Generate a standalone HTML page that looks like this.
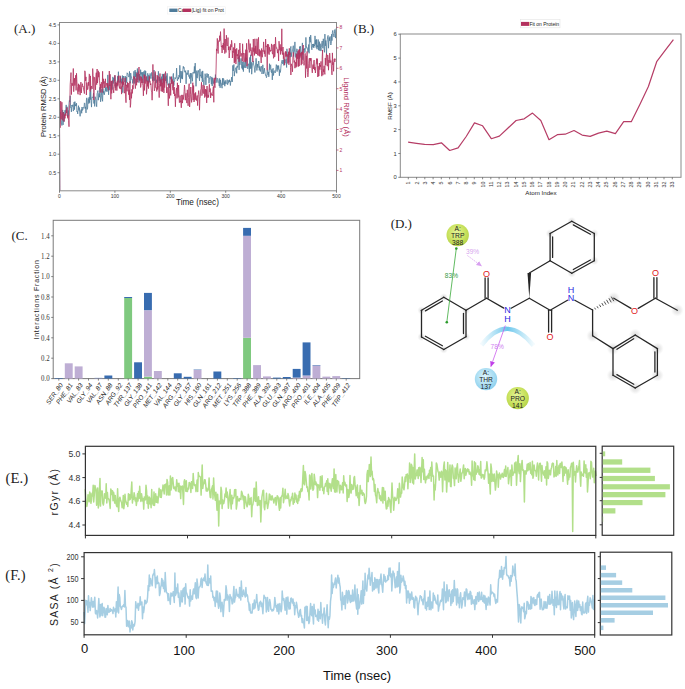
<!DOCTYPE html><html><head><meta charset="utf-8"><style>html,body{margin:0;padding:0;background:#fff;width:685px;height:689px;overflow:hidden}svg{display:block}</style></head><body>
<svg width="685" height="689" viewBox="0 0 685 689">
<rect width="685" height="689" fill="#fff"/>
<text x="24.6" y="28.3" font-size="13" fill="#222" text-anchor="middle" dominant-baseline="central" font-family='"Liberation Serif", serif'>(A.)</text>
<text x="363.9" y="28" font-size="13" fill="#222" text-anchor="middle" dominant-baseline="central" font-family='"Liberation Serif", serif'>(B.)</text>
<text x="19.6" y="235.7" font-size="13" fill="#222" text-anchor="middle" dominant-baseline="central" font-family='"Liberation Serif", serif'>(C.</text>
<text x="401.3" y="223.9" font-size="13" fill="#222" text-anchor="middle" dominant-baseline="central" font-family='"Liberation Serif", serif'>(D.)</text>
<text x="16.8" y="478.3" font-size="14.8" fill="#222" text-anchor="middle" dominant-baseline="central" font-family='"Liberation Serif", serif'>(E.)</text>
<text x="15.4" y="574.6" font-size="14.5" fill="#222" text-anchor="middle" dominant-baseline="central" font-family='"Liberation Serif", serif'>(F.)</text>
<g clip-path="url(#clipA)">
<polyline points="59.8,190.8 59.5,124.0 59.9,123.7 60.3,111.9 60.7,114.3 61.1,120.4 61.5,122.7 61.9,125.5 62.3,116.1 62.7,109.9 63.1,124.9 63.5,112.0 63.9,121.7 64.2,119.3 64.6,114.1 65.0,110.2 65.4,113.7 65.8,108.6 66.2,104.9 66.6,110.8 67.0,106.7 67.4,114.3 67.8,116.8 68.2,110.4 68.6,115.6 69.0,103.3 69.4,100.4 69.8,101.9 70.2,95.8 70.6,107.6 71.0,107.2 71.4,111.9 71.8,105.0 72.2,106.1 72.6,106.4 72.9,104.7 73.3,111.1 73.7,109.3 74.1,102.1 74.5,109.6 74.9,101.6 75.3,106.1 75.7,104.5 76.1,105.8 76.5,103.2 76.9,111.6 77.3,111.0 77.7,113.9 78.1,109.6 78.5,105.7 78.9,110.4 79.3,107.5 79.7,112.1 80.1,116.3 80.5,112.2 80.9,110.2 81.3,109.4 81.7,113.3 82.0,107.0 82.4,110.4 82.8,110.1 83.2,107.4 83.6,107.9 84.0,108.2 84.4,102.9 84.8,103.5 85.2,108.7 85.6,106.9 86.0,112.9 86.4,100.1 86.8,97.8 87.2,109.4 87.6,108.2 88.0,100.3 88.4,98.6 88.8,103.6 89.2,97.0 89.6,102.7 90.0,92.1 90.4,99.6 90.7,87.3 91.1,100.7 91.5,107.1 91.9,97.9 92.3,96.9 92.7,97.6 93.1,97.6 93.5,93.1 93.9,103.5 94.3,99.9 94.7,106.4 95.1,96.7 95.5,98.1 95.9,99.9 96.3,104.0 96.7,106.7 97.1,93.7 97.5,92.4 97.9,90.6 98.3,100.2 98.7,96.1 99.1,93.4 99.5,97.2 99.8,87.4 100.2,91.1 100.6,101.8 101.0,99.1 101.4,95.8 101.8,89.2 102.2,97.9 102.6,101.3 103.0,88.6 103.4,93.3 103.8,91.0 104.2,94.9 104.6,92.9 105.0,91.7 105.4,87.4 105.8,91.2 106.2,87.1 106.6,91.4 107.0,91.8 107.4,91.1 107.8,74.9 108.2,86.0 108.6,94.8 108.9,87.2 109.3,84.9 109.7,90.1 110.1,86.4 110.5,85.2 110.9,85.4 111.3,80.8 111.7,86.2 112.1,89.6 112.5,86.2 112.9,76.9 113.3,83.5 113.7,78.1 114.1,81.2 114.5,81.2 114.9,75.5 115.3,87.8 115.7,82.2 116.1,85.4 116.5,85.0 116.9,86.5 117.3,85.5 117.6,76.2 118.0,81.8 118.4,71.7 118.8,79.4 119.2,82.5 119.6,81.8 120.0,82.4 120.4,76.4 120.8,81.8 121.2,78.7 121.6,83.4 122.0,81.6 122.4,75.5 122.8,92.7 123.2,78.2 123.6,76.0 124.0,80.2 124.4,81.7 124.8,81.4 125.2,76.0 125.6,85.6 126.0,77.6 126.4,77.1 126.7,82.6 127.1,72.8 127.5,73.6 127.9,73.6 128.3,75.7 128.7,76.9 129.1,76.8 129.5,71.4 129.9,81.8 130.3,83.2 130.7,73.1 131.1,76.9 131.5,76.8 131.9,79.5 132.3,79.1 132.7,83.4 133.1,80.4 133.5,79.2 133.9,71.3 134.3,83.5 134.7,76.4 135.1,70.1 135.4,77.0 135.8,72.0 136.2,82.8 136.6,74.1 137.0,76.3 137.4,68.5 137.8,79.9 138.2,71.5 138.6,74.2 139.0,82.6 139.4,74.1 139.8,80.6 140.2,80.3 140.6,69.7 141.0,74.3 141.4,72.3 141.8,76.1 142.2,79.6 142.6,72.2 143.0,83.0 143.4,75.2 143.8,71.5 144.2,75.8 144.5,78.1 144.9,70.4 145.3,76.0 145.7,71.1 146.1,81.3 146.5,77.4 146.9,76.7 147.3,81.5 147.7,73.3 148.1,75.4 148.5,83.5 148.9,75.1 149.3,82.3 149.7,76.9 150.1,73.4 150.5,76.5 150.9,78.7 151.3,76.4 151.7,72.4 152.1,74.4 152.5,80.9 152.9,76.9 153.2,79.9 153.6,80.5 154.0,70.0 154.4,80.7 154.8,77.9 155.2,73.4 155.6,77.1 156.0,83.2 156.4,81.0 156.8,79.7 157.2,82.3 157.6,81.9 158.0,79.3 158.4,71.3 158.8,76.4 159.2,81.1 159.6,77.0 160.0,82.7 160.4,82.3 160.8,78.6 161.2,86.2 161.6,76.6 162.0,83.4 162.3,73.9 162.7,77.5 163.1,80.3 163.5,75.5 163.9,83.2 164.3,73.6 164.7,79.3 165.1,76.8 165.5,80.8 165.9,78.9 166.3,75.7 166.7,83.4 167.1,73.3 167.5,80.0 167.9,85.2 168.3,84.5 168.7,85.0 169.1,83.5 169.5,87.9 169.9,76.5 170.3,79.3 170.7,77.2 171.0,76.9 171.4,82.0 171.8,83.4 172.2,83.7 172.6,79.3 173.0,75.8 173.4,73.4 173.8,85.6 174.2,82.3 174.6,81.0 175.0,77.5 175.4,78.7 175.8,77.7 176.2,77.5 176.6,68.1 177.0,77.7 177.4,80.8 177.8,79.1 178.2,77.2 178.6,79.1 179.0,75.1 179.4,77.2 179.8,65.3 180.1,70.3 180.5,82.8 180.9,71.0 181.3,74.3 181.7,78.6 182.1,71.4 182.5,79.1 182.9,69.4 183.3,66.3 183.7,68.3 184.1,67.4 184.5,71.8 184.9,71.7 185.3,72.4 185.7,70.6 186.1,83.8 186.5,73.2 186.9,72.6 187.3,74.7 187.7,72.5 188.1,70.2 188.5,72.5 188.8,76.4 189.2,75.5 189.6,78.6 190.0,74.5 190.4,73.2 190.8,83.7 191.2,73.2 191.6,77.2 192.0,78.1 192.4,81.3 192.8,73.0 193.2,72.1 193.6,73.3 194.0,72.6 194.4,66.4 194.8,73.3 195.2,63.1 195.6,76.0 196.0,86.3 196.4,78.4 196.8,70.6 197.2,78.2 197.6,73.3 197.9,71.8 198.3,70.3 198.7,72.9 199.1,77.3 199.5,80.8 199.9,68.9 200.3,75.7 200.7,74.9 201.1,77.6 201.5,77.9 201.9,71.6 202.3,81.9 202.7,70.9 203.1,77.3 203.5,81.8 203.9,85.4 204.3,80.7 204.7,79.6 205.1,73.7 205.5,76.4 205.9,84.9 206.3,77.0 206.7,75.9 207.0,73.4 207.4,76.9 207.8,77.6 208.2,74.0 208.6,76.8 209.0,83.3 209.4,79.1 209.8,77.4 210.2,76.3 210.6,77.6 211.0,80.0 211.4,84.2 211.8,76.9 212.2,86.0 212.6,77.9 213.0,80.5 213.4,83.6 213.8,80.8 214.2,79.5 214.6,81.4 215.0,82.9 215.4,74.6 215.7,77.9 216.1,77.7 216.5,79.4 216.9,82.7 217.3,79.5 217.7,78.3 218.1,79.8 218.5,82.5 218.9,82.5 219.3,86.1 219.7,78.4 220.1,87.8 220.5,79.9 220.9,83.7 221.3,83.3 221.7,86.5 222.1,88.2 222.5,78.3 222.9,85.0 223.3,78.4 223.7,78.7 224.1,84.5 224.5,81.7 224.8,86.2 225.2,80.3 225.6,83.2 226.0,84.1 226.4,82.3 226.8,82.1 227.2,79.6 227.6,84.7 228.0,83.2 228.4,83.0 228.8,80.2 229.2,82.0 229.6,79.7 230.0,82.1 230.4,85.5 230.8,81.0 231.2,81.6 231.6,77.1 232.0,80.7 232.4,81.8 232.8,65.4 233.2,71.0 233.5,68.3 233.9,64.5 234.3,76.1 234.7,71.8 235.1,72.2 235.5,68.1 235.9,68.0 236.3,67.4 236.7,73.3 237.1,65.9 237.5,67.4 237.9,66.3 238.3,57.7 238.7,57.1 239.1,69.9 239.5,55.6 239.9,64.9 240.3,62.2 240.7,61.7 241.1,58.4 241.5,63.7 241.9,68.4 242.3,61.6 242.6,69.5 243.0,65.5 243.4,71.6 243.8,62.0 244.2,67.8 244.6,66.2 245.0,62.1 245.4,57.7 245.8,68.0 246.2,57.7 246.6,59.2 247.0,65.6 247.4,67.8 247.8,68.8 248.2,64.0 248.6,63.8 249.0,67.8 249.4,72.5 249.8,57.4 250.2,68.8 250.6,54.8 251.0,68.3 251.3,62.3 251.7,74.2 252.1,68.2 252.5,63.5 252.9,62.8 253.3,61.1 253.7,65.1 254.1,65.9 254.5,69.1 254.9,72.5 255.3,68.8 255.7,62.7 256.1,58.3 256.5,63.0 256.9,70.5 257.3,64.0 257.7,66.9 258.1,67.6 258.5,61.0 258.9,61.4 259.3,70.4 259.7,66.5 260.1,67.7 260.4,71.5 260.8,68.4 261.2,66.1 261.6,66.9 262.0,74.0 262.4,69.9 262.8,64.8 263.2,68.6 263.6,73.8 264.0,72.4 264.4,68.1 264.8,71.6 265.2,73.4 265.6,75.4 266.0,75.1 266.4,77.7 266.8,76.8 267.2,70.3 267.6,69.9 268.0,74.9 268.4,71.9 268.8,76.8 269.1,73.6 269.5,63.7 269.9,69.7 270.3,65.4 270.7,64.8 271.1,72.0 271.5,72.7 271.9,69.4 272.3,79.9 272.7,70.3 273.1,68.3 273.5,75.5 273.9,71.5 274.3,71.0 274.7,70.7 275.1,73.0 275.5,71.5 275.9,69.1 276.3,64.6 276.7,66.7 277.1,71.6 277.5,65.6 277.9,68.9 278.2,69.5 278.6,65.5 279.0,69.3 279.4,75.8 279.8,69.6 280.2,72.5 280.6,70.7 281.0,65.9 281.4,63.4 281.8,61.2 282.2,60.1 282.6,63.8 283.0,63.0 283.4,59.7 283.8,65.4 284.2,58.8 284.6,61.4 285.0,63.2 285.4,60.0 285.8,59.6 286.2,59.2 286.6,67.5 286.9,48.8 287.3,53.5 287.7,56.9 288.1,56.1 288.5,53.6 288.9,62.3 289.3,51.1 289.7,51.4 290.1,57.3 290.5,48.5 290.9,46.4 291.3,56.7 291.7,52.6 292.1,52.5 292.5,49.5 292.9,48.2 293.3,45.7 293.7,56.6 294.1,52.0 294.5,51.0 294.9,41.9 295.3,52.4 295.7,57.4 296.0,56.6 296.4,52.4 296.8,48.8 297.2,49.3 297.6,55.4 298.0,54.0 298.4,53.0 298.8,52.7 299.2,59.0 299.6,46.6 300.0,48.5 300.4,46.2 300.8,55.6 301.2,54.2 301.6,53.7 302.0,50.0 302.4,42.9 302.8,59.7 303.2,50.8 303.6,49.2 304.0,50.0 304.4,48.4 304.8,52.7 305.1,51.7 305.5,47.4 305.9,37.4 306.3,45.4 306.7,48.2 307.1,47.7 307.5,48.9 307.9,52.0 308.3,51.7 308.7,44.5 309.1,53.3 309.5,36.9 309.9,39.2 310.3,42.3 310.7,35.1 311.1,40.1 311.5,48.4 311.9,49.8 312.3,45.7 312.7,44.0 313.1,47.1 313.5,43.9 313.8,47.9 314.2,44.7 314.6,45.9 315.0,35.9 315.4,44.4 315.8,39.9 316.2,47.6 316.6,39.4 317.0,49.2 317.4,45.5 317.8,47.0 318.2,39.5 318.6,50.2 319.0,44.8 319.4,41.7 319.8,50.7 320.2,43.7 320.6,48.7 321.0,51.1 321.4,47.4 321.8,42.6 322.2,41.0 322.6,46.3 322.9,48.3 323.3,38.8 323.7,45.1 324.1,48.8 324.5,52.3 324.9,34.1 325.3,45.9 325.7,40.5 326.1,46.0 326.5,54.5 326.9,42.5 327.3,39.6 327.7,36.4 328.1,35.4 328.5,48.2 328.9,40.6 329.3,37.5 329.7,40.8 330.1,36.4 330.5,43.7 330.9,45.0 331.3,43.2 331.6,34.2 332.0,40.6 332.4,32.2 332.8,30.4 333.2,33.4 333.6,35.1 334.0,37.1 334.4,33.3 334.8,29.6 335.2,32.0 335.6,38.1 336.0,28.5" fill="none" stroke="#4f7c9b" stroke-width="0.8" stroke-linejoin="round"/>
<polyline points="59.8,190.8 59.5,117.0 59.9,127.2 60.3,127.7 60.7,101.1 61.1,119.1 61.5,115.8 61.9,102.2 62.3,120.3 62.7,113.3 63.1,112.5 63.5,112.6 63.9,121.4 64.2,121.4 64.6,114.5 65.0,118.4 65.4,113.3 65.8,115.8 66.2,110.3 66.6,113.0 67.0,107.5 67.4,115.9 67.8,118.3 68.2,115.3 68.6,120.4 69.0,126.7 69.4,105.5 69.8,104.3 70.2,84.4 70.6,78.8 71.0,72.6 71.4,94.6 71.8,83.3 72.2,83.1 72.6,85.7 72.9,83.0 73.3,68.5 73.7,91.7 74.1,84.9 74.5,78.2 74.9,85.5 75.3,80.9 75.7,75.2 76.1,90.4 76.5,73.3 76.9,81.8 77.3,86.5 77.7,92.9 78.1,94.3 78.5,83.8 78.9,91.6 79.3,84.8 79.7,90.1 80.1,95.1 80.5,90.0 80.9,82.1 81.3,93.0 81.7,87.7 82.0,85.2 82.4,83.7 82.8,86.9 83.2,86.4 83.6,89.8 84.0,91.2 84.4,93.6 84.8,70.8 85.2,72.1 85.6,80.9 86.0,76.9 86.4,95.0 86.8,82.6 87.2,84.6 87.6,89.7 88.0,88.5 88.4,82.0 88.8,85.7 89.2,73.9 89.6,74.5 90.0,91.8 90.4,75.9 90.7,89.6 91.1,86.8 91.5,86.0 91.9,88.9 92.3,88.7 92.7,68.6 93.1,75.6 93.5,76.8 93.9,100.0 94.3,77.3 94.7,77.4 95.1,82.2 95.5,89.8 95.9,76.7 96.3,72.7 96.7,84.7 97.1,69.0 97.5,83.0 97.9,77.7 98.3,70.8 98.7,77.2 99.1,72.3 99.5,80.8 99.8,84.0 100.2,92.5 100.6,84.2 101.0,88.3 101.4,82.3 101.8,83.2 102.2,92.5 102.6,71.3 103.0,88.3 103.4,78.8 103.8,83.5 104.2,81.4 104.6,87.9 105.0,84.1 105.4,78.8 105.8,86.9 106.2,85.4 106.6,83.1 107.0,83.5 107.4,87.7 107.8,83.3 108.2,89.3 108.6,90.3 108.9,82.0 109.3,71.0 109.7,85.8 110.1,74.3 110.5,88.0 110.9,99.2 111.3,81.1 111.7,93.4 112.1,85.2 112.5,80.6 112.9,80.5 113.3,89.8 113.7,92.9 114.1,86.8 114.5,86.4 114.9,75.2 115.3,81.4 115.7,90.4 116.1,85.3 116.5,82.8 116.9,90.6 117.3,80.8 117.6,85.5 118.0,83.4 118.4,75.7 118.8,85.5 119.2,86.7 119.6,88.5 120.0,75.7 120.4,78.8 120.8,89.1 121.2,86.5 121.6,94.1 122.0,81.5 122.4,86.8 122.8,77.8 123.2,84.8 123.6,81.7 124.0,85.6 124.4,93.2 124.8,91.6 125.2,77.8 125.6,96.9 126.0,102.7 126.4,86.2 126.7,84.8 127.1,91.3 127.5,82.3 127.9,87.5 128.3,83.1 128.7,94.7 129.1,89.9 129.5,99.9 129.9,81.4 130.3,107.4 130.7,104.0 131.1,92.4 131.5,98.3 131.9,89.3 132.3,93.4 132.7,85.3 133.1,89.2 133.5,79.9 133.9,76.2 134.3,78.5 134.7,77.2 135.1,85.4 135.4,88.6 135.8,78.6 136.2,81.4 136.6,85.3 137.0,72.7 137.4,81.0 137.8,82.4 138.2,77.5 138.6,73.2 139.0,67.0 139.4,80.1 139.8,80.5 140.2,76.3 140.6,87.5 141.0,85.6 141.4,76.7 141.8,83.0 142.2,78.8 142.6,83.8 143.0,85.7 143.4,95.8 143.8,83.1 144.2,74.6 144.5,90.4 144.9,75.6 145.3,82.9 145.7,83.5 146.1,76.4 146.5,94.3 146.9,89.7 147.3,80.5 147.7,86.4 148.1,81.1 148.5,88.6 148.9,81.3 149.3,76.3 149.7,80.8 150.1,81.0 150.5,85.0 150.9,83.6 151.3,90.1 151.7,92.1 152.1,100.2 152.5,91.9 152.9,64.4 153.2,80.8 153.6,80.9 154.0,84.0 154.4,90.9 154.8,88.3 155.2,71.5 155.6,87.5 156.0,87.9 156.4,87.6 156.8,91.4 157.2,75.1 157.6,89.6 158.0,76.1 158.4,85.8 158.8,89.0 159.2,97.6 159.6,83.7 160.0,73.5 160.4,86.3 160.8,80.2 161.2,91.2 161.6,81.1 162.0,78.8 162.3,91.9 162.7,82.8 163.1,90.4 163.5,74.1 163.9,92.9 164.3,78.8 164.7,87.6 165.1,75.7 165.5,71.6 165.9,80.0 166.3,83.5 166.7,93.0 167.1,87.2 167.5,92.7 167.9,92.9 168.3,105.8 168.7,83.7 169.1,94.1 169.5,98.4 169.9,91.1 170.3,83.5 170.7,95.4 171.0,82.4 171.4,76.6 171.8,83.9 172.2,79.3 172.6,88.3 173.0,90.3 173.4,81.5 173.8,93.9 174.2,87.1 174.6,96.0 175.0,93.9 175.4,106.8 175.8,95.0 176.2,90.0 176.6,87.9 177.0,98.4 177.4,82.8 177.8,93.5 178.2,97.4 178.6,85.0 179.0,96.4 179.4,102.6 179.8,101.1 180.1,95.6 180.5,102.3 180.9,100.8 181.3,107.8 181.7,94.9 182.1,96.8 182.5,103.1 182.9,94.9 183.3,99.5 183.7,97.0 184.1,91.4 184.5,85.0 184.9,89.8 185.3,100.2 185.7,94.9 186.1,93.3 186.5,100.3 186.9,103.1 187.3,89.8 187.7,98.6 188.1,105.8 188.5,97.6 188.8,86.4 189.2,83.7 189.6,107.0 190.0,101.3 190.4,94.3 190.8,87.0 191.2,96.8 191.6,102.4 192.0,95.3 192.4,92.0 192.8,82.7 193.2,100.1 193.6,85.5 194.0,102.0 194.4,99.9 194.8,93.4 195.2,99.8 195.6,92.4 196.0,97.5 196.4,100.6 196.8,97.3 197.2,95.5 197.6,105.6 197.9,98.2 198.3,94.4 198.7,90.6 199.1,94.4 199.5,110.2 199.9,98.5 200.3,96.7 200.7,89.8 201.1,88.8 201.5,82.3 201.9,95.6 202.3,93.7 202.7,88.3 203.1,84.9 203.5,92.9 203.9,93.8 204.3,85.7 204.7,97.6 205.1,92.7 205.5,89.2 205.9,96.5 206.3,89.6 206.7,102.9 207.0,86.0 207.4,96.2 207.8,97.8 208.2,94.9 208.6,97.3 209.0,88.1 209.4,84.3 209.8,92.1 210.2,88.5 210.6,98.0 211.0,92.6 211.4,94.5 211.8,94.0 212.2,95.8 212.6,93.4 213.0,89.3 213.4,86.5 213.8,102.3 214.2,77.9 214.6,85.7 215.0,87.7 215.4,77.7 215.7,79.2 216.1,68.0 216.5,48.9 216.9,50.9 217.3,38.4 217.7,46.5 218.1,53.5 218.5,42.0 218.9,40.5 219.3,41.6 219.7,35.7 220.1,40.7 220.5,31.6 220.9,40.2 221.3,46.7 221.7,45.9 222.1,53.0 222.5,45.3 222.9,47.7 223.3,42.9 223.7,49.8 224.1,28.6 224.5,43.4 224.8,53.6 225.2,39.0 225.6,48.5 226.0,52.5 226.4,35.2 226.8,45.2 227.2,46.0 227.6,44.9 228.0,37.6 228.4,50.1 228.8,46.7 229.2,58.0 229.6,52.5 230.0,46.5 230.4,50.1 230.8,44.4 231.2,47.1 231.6,40.3 232.0,44.1 232.4,58.0 232.8,51.0 233.2,52.6 233.5,47.5 233.9,53.5 234.3,63.1 234.7,43.3 235.1,61.8 235.5,49.3 235.9,64.1 236.3,58.2 236.7,48.3 237.1,55.9 237.5,54.4 237.9,59.2 238.3,57.5 238.7,49.8 239.1,61.8 239.5,48.7 239.9,43.0 240.3,50.2 240.7,56.3 241.1,56.4 241.5,53.4 241.9,53.9 242.3,61.2 242.6,43.8 243.0,54.4 243.4,53.1 243.8,62.0 244.2,61.1 244.6,60.3 245.0,53.2 245.4,62.2 245.8,49.7 246.2,60.6 246.6,43.3 247.0,66.2 247.4,63.1 247.8,50.1 248.2,49.4 248.6,39.4 249.0,42.5 249.4,52.4 249.8,50.6 250.2,43.6 250.6,50.6 251.0,49.9 251.3,55.7 251.7,55.6 252.1,47.5 252.5,57.2 252.9,62.0 253.3,39.0 253.7,51.6 254.1,48.3 254.5,55.4 254.9,38.8 255.3,53.6 255.7,45.9 256.1,52.8 256.5,54.0 256.9,38.8 257.3,41.5 257.7,55.3 258.1,41.9 258.5,37.4 258.9,55.7 259.3,49.4 259.7,56.4 260.1,54.4 260.4,50.6 260.8,57.2 261.2,63.0 261.6,48.5 262.0,56.4 262.4,57.2 262.8,50.3 263.2,51.6 263.6,41.9 264.0,48.3 264.4,53.8 264.8,50.5 265.2,56.7 265.6,39.0 266.0,46.9 266.4,45.9 266.8,46.2 267.2,70.2 267.6,44.1 268.0,53.6 268.4,44.4 268.8,45.9 269.1,54.7 269.5,47.3 269.9,50.5 270.3,51.6 270.7,50.1 271.1,50.9 271.5,43.9 271.9,47.7 272.3,53.2 272.7,54.2 273.1,44.8 273.5,58.3 273.9,56.9 274.3,44.0 274.7,56.9 275.1,53.5 275.5,37.2 275.9,45.3 276.3,48.4 276.7,47.7 277.1,49.5 277.5,53.1 277.9,49.3 278.2,49.6 278.6,60.9 279.0,41.2 279.4,45.8 279.8,50.3 280.2,44.4 280.6,54.5 281.0,47.5 281.4,51.1 281.8,28.8 282.2,52.5 282.6,54.6 283.0,47.0 283.4,58.8 283.8,52.6 284.2,58.6 284.6,65.1 285.0,57.9 285.4,51.4 285.8,56.6 286.2,51.6 286.6,56.3 286.9,54.3 287.3,55.0 287.7,63.4 288.1,62.5 288.5,51.8 288.9,64.8 289.3,48.3 289.7,55.0 290.1,52.7 290.5,67.7 290.9,75.0 291.3,63.8 291.7,65.7 292.1,65.8 292.5,71.8 292.9,57.0 293.3,52.4 293.7,56.7 294.1,62.4 294.5,60.6 294.9,68.2 295.3,64.4 295.7,62.1 296.0,67.4 296.4,53.7 296.8,66.5 297.2,54.6 297.6,58.8 298.0,51.1 298.4,66.6 298.8,49.7 299.2,66.1 299.6,49.2 300.0,57.5 300.4,53.2 300.8,52.9 301.2,65.2 301.6,52.2 302.0,63.9 302.4,51.6 302.8,54.4 303.2,45.0 303.6,61.6 304.0,65.3 304.4,62.5 304.8,61.0 305.1,53.3 305.5,77.7 305.9,68.1 306.3,55.8 306.7,68.5 307.1,51.5 307.5,72.6 307.9,76.9 308.3,73.0 308.7,63.2 309.1,58.7 309.5,58.1 309.9,67.9 310.3,58.0 310.7,60.7 311.1,58.2 311.5,62.1 311.9,69.2 312.3,72.9 312.7,66.2 313.1,64.5 313.5,68.9 313.8,61.0 314.2,60.0 314.6,70.1 315.0,67.1 315.4,73.0 315.8,69.0 316.2,63.9 316.6,58.6 317.0,64.2 317.4,58.7 317.8,77.0 318.2,66.2 318.6,76.0 319.0,76.1 319.4,63.0 319.8,69.7 320.2,65.0 320.6,66.7 321.0,61.4 321.4,70.4 321.8,76.2 322.2,56.9 322.6,49.9 322.9,75.2 323.3,69.5 323.7,71.8 324.1,65.8 324.5,72.3 324.9,74.4 325.3,58.0 325.7,65.1 326.1,57.3 326.5,53.8 326.9,63.3 327.3,66.2 327.7,54.9 328.1,57.7 328.5,70.2 328.9,60.0 329.3,62.8 329.7,53.1 330.1,58.7 330.5,62.5 330.9,60.6 331.3,64.7 331.6,70.3 332.0,74.9 332.4,52.9 332.8,64.9 333.2,62.4 333.6,71.3 334.0,59.1 334.4,58.6 334.8,62.0 335.2,58.9 335.6,59.0 336.0,59.5" fill="none" stroke="#b3315e" stroke-width="0.8" stroke-linejoin="round"/>
</g>
<clipPath id="clipA"><rect x="59.5" y="22.5" width="277.0" height="168.3"/></clipPath>
<rect x="59.5" y="22.5" width="277" height="168.3" fill="none" stroke="#8a8a8a" stroke-width="1"/>
<line x1="57.5" y1="172.7" x2="59.5" y2="172.7" stroke="#555" stroke-width="0.7"/>
<text x="56.2" y="172.7" font-size="5.3" fill="#333" text-anchor="end" dominant-baseline="central" font-family='"Liberation Sans", sans-serif'>0.5</text>
<line x1="57.5" y1="154.2" x2="59.5" y2="154.2" stroke="#555" stroke-width="0.7"/>
<text x="56.2" y="154.2" font-size="5.3" fill="#333" text-anchor="end" dominant-baseline="central" font-family='"Liberation Sans", sans-serif'>1.0</text>
<line x1="57.5" y1="135.8" x2="59.5" y2="135.8" stroke="#555" stroke-width="0.7"/>
<text x="56.2" y="135.8" font-size="5.3" fill="#333" text-anchor="end" dominant-baseline="central" font-family='"Liberation Sans", sans-serif'>1.5</text>
<line x1="57.5" y1="117.3" x2="59.5" y2="117.3" stroke="#555" stroke-width="0.7"/>
<text x="56.2" y="117.3" font-size="5.3" fill="#333" text-anchor="end" dominant-baseline="central" font-family='"Liberation Sans", sans-serif'>2.0</text>
<line x1="57.5" y1="98.8" x2="59.5" y2="98.8" stroke="#555" stroke-width="0.7"/>
<text x="56.2" y="98.8" font-size="5.3" fill="#333" text-anchor="end" dominant-baseline="central" font-family='"Liberation Sans", sans-serif'>2.5</text>
<line x1="57.5" y1="80.3" x2="59.5" y2="80.3" stroke="#555" stroke-width="0.7"/>
<text x="56.2" y="80.3" font-size="5.3" fill="#333" text-anchor="end" dominant-baseline="central" font-family='"Liberation Sans", sans-serif'>3.0</text>
<line x1="57.5" y1="61.9" x2="59.5" y2="61.9" stroke="#555" stroke-width="0.7"/>
<text x="56.2" y="61.9" font-size="5.3" fill="#333" text-anchor="end" dominant-baseline="central" font-family='"Liberation Sans", sans-serif'>3.5</text>
<line x1="57.5" y1="43.4" x2="59.5" y2="43.4" stroke="#555" stroke-width="0.7"/>
<text x="56.2" y="43.4" font-size="5.3" fill="#333" text-anchor="end" dominant-baseline="central" font-family='"Liberation Sans", sans-serif'>4.0</text>
<line x1="57.5" y1="24.9" x2="59.5" y2="24.9" stroke="#555" stroke-width="0.7"/>
<text x="56.2" y="24.9" font-size="5.3" fill="#333" text-anchor="end" dominant-baseline="central" font-family='"Liberation Sans", sans-serif'>4.5</text>
<line x1="336.5" y1="170.4" x2="338.5" y2="170.4" stroke="#b3315e" stroke-width="0.7"/>
<text x="339.4" y="170.4" font-size="5" fill="#b3315e" text-anchor="start" dominant-baseline="central" font-family='"Liberation Sans", sans-serif'>1</text>
<line x1="336.5" y1="150" x2="338.5" y2="150" stroke="#b3315e" stroke-width="0.7"/>
<text x="339.4" y="150" font-size="5" fill="#b3315e" text-anchor="start" dominant-baseline="central" font-family='"Liberation Sans", sans-serif'>2</text>
<line x1="336.5" y1="129.5" x2="338.5" y2="129.5" stroke="#b3315e" stroke-width="0.7"/>
<text x="339.4" y="129.5" font-size="5" fill="#b3315e" text-anchor="start" dominant-baseline="central" font-family='"Liberation Sans", sans-serif'>3</text>
<line x1="336.5" y1="109.1" x2="338.5" y2="109.1" stroke="#b3315e" stroke-width="0.7"/>
<text x="339.4" y="109.1" font-size="5" fill="#b3315e" text-anchor="start" dominant-baseline="central" font-family='"Liberation Sans", sans-serif'>4</text>
<line x1="336.5" y1="88.7" x2="338.5" y2="88.7" stroke="#b3315e" stroke-width="0.7"/>
<text x="339.4" y="88.7" font-size="5" fill="#b3315e" text-anchor="start" dominant-baseline="central" font-family='"Liberation Sans", sans-serif'>5</text>
<line x1="336.5" y1="68.3" x2="338.5" y2="68.3" stroke="#b3315e" stroke-width="0.7"/>
<text x="339.4" y="68.3" font-size="5" fill="#b3315e" text-anchor="start" dominant-baseline="central" font-family='"Liberation Sans", sans-serif'>6</text>
<line x1="336.5" y1="47.9" x2="338.5" y2="47.9" stroke="#b3315e" stroke-width="0.7"/>
<text x="339.4" y="47.9" font-size="5" fill="#b3315e" text-anchor="start" dominant-baseline="central" font-family='"Liberation Sans", sans-serif'>7</text>
<line x1="336.5" y1="27.4" x2="338.5" y2="27.4" stroke="#b3315e" stroke-width="0.7"/>
<text x="339.4" y="27.4" font-size="5" fill="#b3315e" text-anchor="start" dominant-baseline="central" font-family='"Liberation Sans", sans-serif'>8</text>
<line x1="59.5" y1="190.8" x2="59.5" y2="192.8" stroke="#555" stroke-width="0.7"/>
<text x="59.5" y="196.3" font-size="5" fill="#333" text-anchor="middle" dominant-baseline="central" font-family='"Liberation Sans", sans-serif'>0</text>
<line x1="114.9" y1="190.8" x2="114.9" y2="192.8" stroke="#555" stroke-width="0.7"/>
<text x="114.9" y="196.3" font-size="5" fill="#333" text-anchor="middle" dominant-baseline="central" font-family='"Liberation Sans", sans-serif'>100</text>
<line x1="170.3" y1="190.8" x2="170.3" y2="192.8" stroke="#555" stroke-width="0.7"/>
<text x="170.3" y="196.3" font-size="5" fill="#333" text-anchor="middle" dominant-baseline="central" font-family='"Liberation Sans", sans-serif'>200</text>
<line x1="225.7" y1="190.8" x2="225.7" y2="192.8" stroke="#555" stroke-width="0.7"/>
<text x="225.7" y="196.3" font-size="5" fill="#333" text-anchor="middle" dominant-baseline="central" font-family='"Liberation Sans", sans-serif'>300</text>
<line x1="281.1" y1="190.8" x2="281.1" y2="192.8" stroke="#555" stroke-width="0.7"/>
<text x="281.1" y="196.3" font-size="5" fill="#333" text-anchor="middle" dominant-baseline="central" font-family='"Liberation Sans", sans-serif'>400</text>
<line x1="336.5" y1="190.8" x2="336.5" y2="192.8" stroke="#555" stroke-width="0.7"/>
<text x="336.5" y="196.3" font-size="5" fill="#333" text-anchor="middle" dominant-baseline="central" font-family='"Liberation Sans", sans-serif'>500</text>
<text x="197.5" y="202.5" font-size="8.2" fill="#222" text-anchor="middle" dominant-baseline="central" font-family='"Liberation Sans", sans-serif'>Time (nsec)</text>
<text x="43.2" y="106.7" font-size="7.6" fill="#222" text-anchor="middle" dominant-baseline="central" font-family='"Liberation Sans", sans-serif' transform="rotate(-90 43.2 106.7)">Protein RMSD (&#197;)</text>
<text x="346.8" y="107" font-size="7.6" fill="#b3315e" text-anchor="middle" dominant-baseline="central" font-family='"Liberation Sans", sans-serif' transform="rotate(90 346.8 107)">Ligand RMSD (&#197;)</text>
<rect x="167.5" y="6.8" width="58" height="7.2" fill="#fff" stroke="#ececec" stroke-width="0.5"/>
<rect x="169.3" y="8.6" width="8.2" height="3.4" fill="#4f7c9b" stroke="none" stroke-width="1"/>
<text x="178" y="10.3" font-size="4.8" fill="#222" text-anchor="start" dominant-baseline="central" font-family='"Liberation Sans", sans-serif'>Ca</text>
<rect x="182.8" y="8.6" width="8.2" height="3.4" fill="#b3315e" stroke="none" stroke-width="1"/>
<text x="191.2" y="10.3" font-size="5" fill="#222" text-anchor="start" dominant-baseline="central" font-family='"Liberation Sans", sans-serif'>(Lig) fit on Prot</text>
<rect x="400.3" y="34" width="280.7" height="143.3" fill="none" stroke="#8a8a8a" stroke-width="1"/>
<line x1="398.3" y1="177.3" x2="400.3" y2="177.3" stroke="#555" stroke-width="0.7"/>
<text x="396.7" y="177.3" font-size="5.8" fill="#333" text-anchor="end" dominant-baseline="central" font-family='"Liberation Sans", sans-serif'>0</text>
<line x1="398.3" y1="153.5" x2="400.3" y2="153.5" stroke="#555" stroke-width="0.7"/>
<text x="396.7" y="153.5" font-size="5.8" fill="#333" text-anchor="end" dominant-baseline="central" font-family='"Liberation Sans", sans-serif'>1</text>
<line x1="398.3" y1="129.6" x2="400.3" y2="129.6" stroke="#555" stroke-width="0.7"/>
<text x="396.7" y="129.6" font-size="5.8" fill="#333" text-anchor="end" dominant-baseline="central" font-family='"Liberation Sans", sans-serif'>2</text>
<line x1="398.3" y1="105.8" x2="400.3" y2="105.8" stroke="#555" stroke-width="0.7"/>
<text x="396.7" y="105.8" font-size="5.8" fill="#333" text-anchor="end" dominant-baseline="central" font-family='"Liberation Sans", sans-serif'>3</text>
<line x1="398.3" y1="81.9" x2="400.3" y2="81.9" stroke="#555" stroke-width="0.7"/>
<text x="396.7" y="81.9" font-size="5.8" fill="#333" text-anchor="end" dominant-baseline="central" font-family='"Liberation Sans", sans-serif'>4</text>
<line x1="398.3" y1="58.1" x2="400.3" y2="58.1" stroke="#555" stroke-width="0.7"/>
<text x="396.7" y="58.1" font-size="5.8" fill="#333" text-anchor="end" dominant-baseline="central" font-family='"Liberation Sans", sans-serif'>5</text>
<line x1="398.3" y1="34.2" x2="400.3" y2="34.2" stroke="#555" stroke-width="0.7"/>
<text x="396.7" y="34.2" font-size="5.8" fill="#333" text-anchor="end" dominant-baseline="central" font-family='"Liberation Sans", sans-serif'>6</text>
<polyline points="408.1,142.2 416.5,143.3 424.6,144.4 433.3,144.6 441.4,142.8 449.7,150.5 458.1,147.9 466.2,136.5 474.5,122.9 482.6,125.8 491.3,138.7 499.4,136.1 507.8,128.2 516.1,120.5 524.2,118.8 532.5,113.1 540.8,120.5 549.0,139.7 557.3,134.7 565.2,134.2 574.0,130.5 582.1,135.1 590.2,136.4 598.5,133.1 606.8,131.2 615.4,133.6 623.7,121.7 631.3,121.7 640.1,104.0 648.4,86.5 656.7,61.7 664.6,51.2 673.4,39.6" fill="none" stroke="#b63d66" stroke-width="1.2" stroke-linejoin="round"/>
<line x1="408.3" y1="177.3" x2="408.3" y2="179.3" stroke="#555" stroke-width="0.7"/>
<text x="408.3" y="181.5" font-size="5.3" fill="#333" text-anchor="end" dominant-baseline="central" font-family='"Liberation Sans", sans-serif' transform="rotate(-90 408.3 181.5)">1</text>
<line x1="416.6" y1="177.3" x2="416.6" y2="179.3" stroke="#555" stroke-width="0.7"/>
<text x="416.6" y="181.5" font-size="5.3" fill="#333" text-anchor="end" dominant-baseline="central" font-family='"Liberation Sans", sans-serif' transform="rotate(-90 416.6 181.5)">2</text>
<line x1="424.8" y1="177.3" x2="424.8" y2="179.3" stroke="#555" stroke-width="0.7"/>
<text x="424.8" y="181.5" font-size="5.3" fill="#333" text-anchor="end" dominant-baseline="central" font-family='"Liberation Sans", sans-serif' transform="rotate(-90 424.8 181.5)">3</text>
<line x1="433.1" y1="177.3" x2="433.1" y2="179.3" stroke="#555" stroke-width="0.7"/>
<text x="433.1" y="181.5" font-size="5.3" fill="#333" text-anchor="end" dominant-baseline="central" font-family='"Liberation Sans", sans-serif' transform="rotate(-90 433.1 181.5)">4</text>
<line x1="441.3" y1="177.3" x2="441.3" y2="179.3" stroke="#555" stroke-width="0.7"/>
<text x="441.3" y="181.5" font-size="5.3" fill="#333" text-anchor="end" dominant-baseline="central" font-family='"Liberation Sans", sans-serif' transform="rotate(-90 441.3 181.5)">5</text>
<line x1="449.6" y1="177.3" x2="449.6" y2="179.3" stroke="#555" stroke-width="0.7"/>
<text x="449.6" y="181.5" font-size="5.3" fill="#333" text-anchor="end" dominant-baseline="central" font-family='"Liberation Sans", sans-serif' transform="rotate(-90 449.6 181.5)">6</text>
<line x1="457.8" y1="177.3" x2="457.8" y2="179.3" stroke="#555" stroke-width="0.7"/>
<text x="457.8" y="181.5" font-size="5.3" fill="#333" text-anchor="end" dominant-baseline="central" font-family='"Liberation Sans", sans-serif' transform="rotate(-90 457.8 181.5)">7</text>
<line x1="466.1" y1="177.3" x2="466.1" y2="179.3" stroke="#555" stroke-width="0.7"/>
<text x="466.1" y="181.5" font-size="5.3" fill="#333" text-anchor="end" dominant-baseline="central" font-family='"Liberation Sans", sans-serif' transform="rotate(-90 466.1 181.5)">8</text>
<line x1="474.3" y1="177.3" x2="474.3" y2="179.3" stroke="#555" stroke-width="0.7"/>
<text x="474.3" y="181.5" font-size="5.3" fill="#333" text-anchor="end" dominant-baseline="central" font-family='"Liberation Sans", sans-serif' transform="rotate(-90 474.3 181.5)">9</text>
<line x1="482.6" y1="177.3" x2="482.6" y2="179.3" stroke="#555" stroke-width="0.7"/>
<text x="482.6" y="181.5" font-size="5.3" fill="#333" text-anchor="end" dominant-baseline="central" font-family='"Liberation Sans", sans-serif' transform="rotate(-90 482.6 181.5)">10</text>
<line x1="490.8" y1="177.3" x2="490.8" y2="179.3" stroke="#555" stroke-width="0.7"/>
<text x="490.8" y="181.5" font-size="5.3" fill="#333" text-anchor="end" dominant-baseline="central" font-family='"Liberation Sans", sans-serif' transform="rotate(-90 490.8 181.5)">11</text>
<line x1="499.1" y1="177.3" x2="499.1" y2="179.3" stroke="#555" stroke-width="0.7"/>
<text x="499.1" y="181.5" font-size="5.3" fill="#333" text-anchor="end" dominant-baseline="central" font-family='"Liberation Sans", sans-serif' transform="rotate(-90 499.1 181.5)">12</text>
<line x1="507.3" y1="177.3" x2="507.3" y2="179.3" stroke="#555" stroke-width="0.7"/>
<text x="507.3" y="181.5" font-size="5.3" fill="#333" text-anchor="end" dominant-baseline="central" font-family='"Liberation Sans", sans-serif' transform="rotate(-90 507.3 181.5)">13</text>
<line x1="515.5" y1="177.3" x2="515.5" y2="179.3" stroke="#555" stroke-width="0.7"/>
<text x="515.5" y="181.5" font-size="5.3" fill="#333" text-anchor="end" dominant-baseline="central" font-family='"Liberation Sans", sans-serif' transform="rotate(-90 515.5 181.5)">14</text>
<line x1="523.8" y1="177.3" x2="523.8" y2="179.3" stroke="#555" stroke-width="0.7"/>
<text x="523.8" y="181.5" font-size="5.3" fill="#333" text-anchor="end" dominant-baseline="central" font-family='"Liberation Sans", sans-serif' transform="rotate(-90 523.8 181.5)">15</text>
<line x1="532" y1="177.3" x2="532" y2="179.3" stroke="#555" stroke-width="0.7"/>
<text x="532" y="181.5" font-size="5.3" fill="#333" text-anchor="end" dominant-baseline="central" font-family='"Liberation Sans", sans-serif' transform="rotate(-90 532 181.5)">16</text>
<line x1="540.3" y1="177.3" x2="540.3" y2="179.3" stroke="#555" stroke-width="0.7"/>
<text x="540.3" y="181.5" font-size="5.3" fill="#333" text-anchor="end" dominant-baseline="central" font-family='"Liberation Sans", sans-serif' transform="rotate(-90 540.3 181.5)">17</text>
<line x1="548.5" y1="177.3" x2="548.5" y2="179.3" stroke="#555" stroke-width="0.7"/>
<text x="548.5" y="181.5" font-size="5.3" fill="#333" text-anchor="end" dominant-baseline="central" font-family='"Liberation Sans", sans-serif' transform="rotate(-90 548.5 181.5)">18</text>
<line x1="556.8" y1="177.3" x2="556.8" y2="179.3" stroke="#555" stroke-width="0.7"/>
<text x="556.8" y="181.5" font-size="5.3" fill="#333" text-anchor="end" dominant-baseline="central" font-family='"Liberation Sans", sans-serif' transform="rotate(-90 556.8 181.5)">19</text>
<line x1="565" y1="177.3" x2="565" y2="179.3" stroke="#555" stroke-width="0.7"/>
<text x="565" y="181.5" font-size="5.3" fill="#333" text-anchor="end" dominant-baseline="central" font-family='"Liberation Sans", sans-serif' transform="rotate(-90 565 181.5)">20</text>
<line x1="573.3" y1="177.3" x2="573.3" y2="179.3" stroke="#555" stroke-width="0.7"/>
<text x="573.3" y="181.5" font-size="5.3" fill="#333" text-anchor="end" dominant-baseline="central" font-family='"Liberation Sans", sans-serif' transform="rotate(-90 573.3 181.5)">21</text>
<line x1="581.5" y1="177.3" x2="581.5" y2="179.3" stroke="#555" stroke-width="0.7"/>
<text x="581.5" y="181.5" font-size="5.3" fill="#333" text-anchor="end" dominant-baseline="central" font-family='"Liberation Sans", sans-serif' transform="rotate(-90 581.5 181.5)">22</text>
<line x1="589.8" y1="177.3" x2="589.8" y2="179.3" stroke="#555" stroke-width="0.7"/>
<text x="589.8" y="181.5" font-size="5.3" fill="#333" text-anchor="end" dominant-baseline="central" font-family='"Liberation Sans", sans-serif' transform="rotate(-90 589.8 181.5)">23</text>
<line x1="598" y1="177.3" x2="598" y2="179.3" stroke="#555" stroke-width="0.7"/>
<text x="598" y="181.5" font-size="5.3" fill="#333" text-anchor="end" dominant-baseline="central" font-family='"Liberation Sans", sans-serif' transform="rotate(-90 598 181.5)">24</text>
<line x1="606.3" y1="177.3" x2="606.3" y2="179.3" stroke="#555" stroke-width="0.7"/>
<text x="606.3" y="181.5" font-size="5.3" fill="#333" text-anchor="end" dominant-baseline="central" font-family='"Liberation Sans", sans-serif' transform="rotate(-90 606.3 181.5)">25</text>
<line x1="614.5" y1="177.3" x2="614.5" y2="179.3" stroke="#555" stroke-width="0.7"/>
<text x="614.5" y="181.5" font-size="5.3" fill="#333" text-anchor="end" dominant-baseline="central" font-family='"Liberation Sans", sans-serif' transform="rotate(-90 614.5 181.5)">26</text>
<line x1="622.8" y1="177.3" x2="622.8" y2="179.3" stroke="#555" stroke-width="0.7"/>
<text x="622.8" y="181.5" font-size="5.3" fill="#333" text-anchor="end" dominant-baseline="central" font-family='"Liberation Sans", sans-serif' transform="rotate(-90 622.8 181.5)">27</text>
<line x1="631" y1="177.3" x2="631" y2="179.3" stroke="#555" stroke-width="0.7"/>
<text x="631" y="181.5" font-size="5.3" fill="#333" text-anchor="end" dominant-baseline="central" font-family='"Liberation Sans", sans-serif' transform="rotate(-90 631 181.5)">28</text>
<line x1="639.3" y1="177.3" x2="639.3" y2="179.3" stroke="#555" stroke-width="0.7"/>
<text x="639.3" y="181.5" font-size="5.3" fill="#333" text-anchor="end" dominant-baseline="central" font-family='"Liberation Sans", sans-serif' transform="rotate(-90 639.3 181.5)">29</text>
<line x1="647.5" y1="177.3" x2="647.5" y2="179.3" stroke="#555" stroke-width="0.7"/>
<text x="647.5" y="181.5" font-size="5.3" fill="#333" text-anchor="end" dominant-baseline="central" font-family='"Liberation Sans", sans-serif' transform="rotate(-90 647.5 181.5)">30</text>
<line x1="655.8" y1="177.3" x2="655.8" y2="179.3" stroke="#555" stroke-width="0.7"/>
<text x="655.8" y="181.5" font-size="5.3" fill="#333" text-anchor="end" dominant-baseline="central" font-family='"Liberation Sans", sans-serif' transform="rotate(-90 655.8 181.5)">31</text>
<line x1="664" y1="177.3" x2="664" y2="179.3" stroke="#555" stroke-width="0.7"/>
<text x="664" y="181.5" font-size="5.3" fill="#333" text-anchor="end" dominant-baseline="central" font-family='"Liberation Sans", sans-serif' transform="rotate(-90 664 181.5)">32</text>
<line x1="672.3" y1="177.3" x2="672.3" y2="179.3" stroke="#555" stroke-width="0.7"/>
<text x="672.3" y="181.5" font-size="5.3" fill="#333" text-anchor="end" dominant-baseline="central" font-family='"Liberation Sans", sans-serif' transform="rotate(-90 672.3 181.5)">33</text>
<text x="541" y="192.8" font-size="6.2" fill="#222" text-anchor="middle" dominant-baseline="central" font-family='"Liberation Sans", sans-serif'>Atom Index</text>
<text x="389" y="106" font-size="6.2" fill="#222" text-anchor="middle" dominant-baseline="central" font-family='"Liberation Sans", sans-serif' transform="rotate(-90 389 106)">RMSF (&#197;)</text>
<rect x="520.5" y="19.6" width="39.5" height="8.2" fill="#fff" stroke="#e4e4e4" stroke-width="0.6"/>
<rect x="521" y="21.9" width="8.2" height="4" fill="#b3315e" stroke="none" stroke-width="1"/>
<text x="529.4" y="23.9" font-size="5" fill="#222" text-anchor="start" dominant-baseline="central" font-family='"Liberation Sans", sans-serif'>Fit on Protein</text>
<rect x="53.2" y="220.3" width="306.5" height="158.3" fill="none" stroke="#7a7a7a" stroke-width="1"/>
<line x1="51.2" y1="378.6" x2="53.2" y2="378.6" stroke="#555" stroke-width="0.7"/>
<text x="49.6" y="378.8" font-size="8.4" fill="#333" text-anchor="end" dominant-baseline="central" font-family='"Liberation Serif", serif' textLength="8.6" lengthAdjust="spacingAndGlyphs">0.0</text>
<line x1="51.2" y1="358.2" x2="53.2" y2="358.2" stroke="#555" stroke-width="0.7"/>
<text x="49.6" y="358.4" font-size="8.4" fill="#333" text-anchor="end" dominant-baseline="central" font-family='"Liberation Serif", serif' textLength="8.6" lengthAdjust="spacingAndGlyphs">0.2</text>
<line x1="51.2" y1="337.8" x2="53.2" y2="337.8" stroke="#555" stroke-width="0.7"/>
<text x="49.6" y="338" font-size="8.4" fill="#333" text-anchor="end" dominant-baseline="central" font-family='"Liberation Serif", serif' textLength="8.6" lengthAdjust="spacingAndGlyphs">0.4</text>
<line x1="51.2" y1="317.4" x2="53.2" y2="317.4" stroke="#555" stroke-width="0.7"/>
<text x="49.6" y="317.6" font-size="8.4" fill="#333" text-anchor="end" dominant-baseline="central" font-family='"Liberation Serif", serif' textLength="8.6" lengthAdjust="spacingAndGlyphs">0.6</text>
<line x1="51.2" y1="297" x2="53.2" y2="297" stroke="#555" stroke-width="0.7"/>
<text x="49.6" y="297.2" font-size="8.4" fill="#333" text-anchor="end" dominant-baseline="central" font-family='"Liberation Serif", serif' textLength="8.6" lengthAdjust="spacingAndGlyphs">0.8</text>
<line x1="51.2" y1="276.6" x2="53.2" y2="276.6" stroke="#555" stroke-width="0.7"/>
<text x="49.6" y="276.8" font-size="8.4" fill="#333" text-anchor="end" dominant-baseline="central" font-family='"Liberation Serif", serif' textLength="8.6" lengthAdjust="spacingAndGlyphs">1.0</text>
<line x1="51.2" y1="256.2" x2="53.2" y2="256.2" stroke="#555" stroke-width="0.7"/>
<text x="49.6" y="256.4" font-size="8.4" fill="#333" text-anchor="end" dominant-baseline="central" font-family='"Liberation Serif", serif' textLength="8.6" lengthAdjust="spacingAndGlyphs">1.2</text>
<line x1="51.2" y1="235.8" x2="53.2" y2="235.8" stroke="#555" stroke-width="0.7"/>
<text x="49.6" y="236" font-size="8.4" fill="#333" text-anchor="end" dominant-baseline="central" font-family='"Liberation Serif", serif' textLength="8.6" lengthAdjust="spacingAndGlyphs">1.4</text>
<text x="36.6" y="299.5" font-size="7" fill="#222" text-anchor="middle" dominant-baseline="central" font-family='"Liberation Sans", sans-serif' transform="rotate(-90 36.6 299.5)" letter-spacing="0.8">Interactions Fraction</text>
<rect x="54.8" y="378" width="7.9" height="0.6" fill="#386cb0" stroke="none" stroke-width="1"/>
<line x1="58.8" y1="378.6" x2="58.8" y2="380.6" stroke="#555" stroke-width="0.7"/>
<text x="61.2" y="383.6" font-size="6.5" fill="#222" text-anchor="end" dominant-baseline="central" font-family='"Liberation Sans", sans-serif' transform="rotate(-55 61.2 383.6)" font-style="italic">SER_80</text>
<rect x="64.8" y="363.3" width="7.9" height="15.3" fill="#beaed4" stroke="none" stroke-width="1"/>
<line x1="68.7" y1="378.6" x2="68.7" y2="380.6" stroke="#555" stroke-width="0.7"/>
<text x="71.1" y="383.6" font-size="6.5" fill="#222" text-anchor="end" dominant-baseline="central" font-family='"Liberation Sans", sans-serif' transform="rotate(-55 71.1 383.6)" font-style="italic">PHE_81</text>
<rect x="74.7" y="366.4" width="7.9" height="12.2" fill="#beaed4" stroke="none" stroke-width="1"/>
<line x1="78.6" y1="378.6" x2="78.6" y2="380.6" stroke="#555" stroke-width="0.7"/>
<text x="81" y="383.6" font-size="6.5" fill="#222" text-anchor="end" dominant-baseline="central" font-family='"Liberation Sans", sans-serif' transform="rotate(-55 81 383.6)" font-style="italic">VAL_83</text>
<line x1="88.5" y1="378.6" x2="88.5" y2="380.6" stroke="#555" stroke-width="0.7"/>
<text x="90.9" y="383.6" font-size="6.5" fill="#222" text-anchor="end" dominant-baseline="central" font-family='"Liberation Sans", sans-serif' transform="rotate(-55 90.9 383.6)" font-style="italic">GLY_94</text>
<rect x="94.5" y="378.2" width="7.9" height="0.4" fill="#beaed4" stroke="none" stroke-width="1"/>
<rect x="94.5" y="377.9" width="7.9" height="0.3" fill="#386cb0" stroke="none" stroke-width="1"/>
<line x1="98.4" y1="378.6" x2="98.4" y2="380.6" stroke="#555" stroke-width="0.7"/>
<text x="100.8" y="383.6" font-size="6.5" fill="#222" text-anchor="end" dominant-baseline="central" font-family='"Liberation Sans", sans-serif' transform="rotate(-55 100.8 383.6)" font-style="italic">VAL_87</text>
<rect x="104.4" y="375.5" width="7.9" height="3.1" fill="#386cb0" stroke="none" stroke-width="1"/>
<line x1="108.3" y1="378.6" x2="108.3" y2="380.6" stroke="#555" stroke-width="0.7"/>
<text x="110.8" y="383.6" font-size="6.5" fill="#222" text-anchor="end" dominant-baseline="central" font-family='"Liberation Sans", sans-serif' transform="rotate(-55 110.8 383.6)" font-style="italic">ASN_88</text>
<line x1="118.3" y1="378.6" x2="118.3" y2="380.6" stroke="#555" stroke-width="0.7"/>
<text x="120.7" y="383.6" font-size="6.5" fill="#222" text-anchor="end" dominant-baseline="central" font-family='"Liberation Sans", sans-serif' transform="rotate(-55 120.7 383.6)" font-style="italic">ARG_92</text>
<rect x="124.2" y="298" width="7.9" height="80.6" fill="#7fc97f" stroke="none" stroke-width="1"/>
<rect x="124.2" y="297" width="7.9" height="1" fill="#386cb0" stroke="none" stroke-width="1"/>
<line x1="128.2" y1="378.6" x2="128.2" y2="380.6" stroke="#555" stroke-width="0.7"/>
<text x="130.6" y="383.6" font-size="6.5" fill="#222" text-anchor="end" dominant-baseline="central" font-family='"Liberation Sans", sans-serif' transform="rotate(-55 130.6 383.6)" font-style="italic">THR_137</text>
<rect x="134.1" y="362.3" width="7.9" height="16.3" fill="#386cb0" stroke="none" stroke-width="1"/>
<line x1="138.1" y1="378.6" x2="138.1" y2="380.6" stroke="#555" stroke-width="0.7"/>
<text x="140.5" y="383.6" font-size="6.5" fill="#222" text-anchor="end" dominant-baseline="central" font-family='"Liberation Sans", sans-serif' transform="rotate(-55 140.5 383.6)" font-style="italic">GLY_138</text>
<rect x="144" y="376.6" width="7.9" height="2" fill="#7fc97f" stroke="none" stroke-width="1"/>
<rect x="144" y="310.3" width="7.9" height="66.3" fill="#beaed4" stroke="none" stroke-width="1"/>
<rect x="144" y="292.9" width="7.9" height="17.3" fill="#386cb0" stroke="none" stroke-width="1"/>
<line x1="148" y1="378.6" x2="148" y2="380.6" stroke="#555" stroke-width="0.7"/>
<text x="150.4" y="383.6" font-size="6.5" fill="#222" text-anchor="end" dominant-baseline="central" font-family='"Liberation Sans", sans-serif' transform="rotate(-55 150.4 383.6)" font-style="italic">PRO_141</text>
<rect x="153.9" y="371" width="7.9" height="7.6" fill="#beaed4" stroke="none" stroke-width="1"/>
<line x1="157.9" y1="378.6" x2="157.9" y2="380.6" stroke="#555" stroke-width="0.7"/>
<text x="160.3" y="383.6" font-size="6.5" fill="#222" text-anchor="end" dominant-baseline="central" font-family='"Liberation Sans", sans-serif' transform="rotate(-55 160.3 383.6)" font-style="italic">MET_142</text>
<line x1="167.8" y1="378.6" x2="167.8" y2="380.6" stroke="#555" stroke-width="0.7"/>
<text x="170.2" y="383.6" font-size="6.5" fill="#222" text-anchor="end" dominant-baseline="central" font-family='"Liberation Sans", sans-serif' transform="rotate(-55 170.2 383.6)" font-style="italic">VAL_144</text>
<rect x="173.8" y="373.3" width="7.9" height="5.3" fill="#386cb0" stroke="none" stroke-width="1"/>
<line x1="177.7" y1="378.6" x2="177.7" y2="380.6" stroke="#555" stroke-width="0.7"/>
<text x="180.1" y="383.6" font-size="6.5" fill="#222" text-anchor="end" dominant-baseline="central" font-family='"Liberation Sans", sans-serif' transform="rotate(-55 180.1 383.6)" font-style="italic">ARG_153</text>
<rect x="183.7" y="376.8" width="7.9" height="1.8" fill="#386cb0" stroke="none" stroke-width="1"/>
<line x1="187.6" y1="378.6" x2="187.6" y2="380.6" stroke="#555" stroke-width="0.7"/>
<text x="190" y="383.6" font-size="6.5" fill="#222" text-anchor="end" dominant-baseline="central" font-family='"Liberation Sans", sans-serif' transform="rotate(-55 190 383.6)" font-style="italic">GLY_157</text>
<rect x="193.6" y="369.9" width="7.9" height="8.7" fill="#beaed4" stroke="none" stroke-width="1"/>
<rect x="193.6" y="369.5" width="7.9" height="0.4" fill="#386cb0" stroke="none" stroke-width="1"/>
<line x1="197.5" y1="378.6" x2="197.5" y2="380.6" stroke="#555" stroke-width="0.7"/>
<text x="199.9" y="383.6" font-size="6.5" fill="#222" text-anchor="end" dominant-baseline="central" font-family='"Liberation Sans", sans-serif' transform="rotate(-55 199.9 383.6)" font-style="italic">HIS_160</text>
<line x1="207.4" y1="378.6" x2="207.4" y2="380.6" stroke="#555" stroke-width="0.7"/>
<text x="209.8" y="383.6" font-size="6.5" fill="#222" text-anchor="end" dominant-baseline="central" font-family='"Liberation Sans", sans-serif' transform="rotate(-55 209.8 383.6)" font-style="italic">GLN_161</text>
<rect x="213.4" y="371.5" width="7.9" height="7.1" fill="#386cb0" stroke="none" stroke-width="1"/>
<line x1="217.4" y1="378.6" x2="217.4" y2="380.6" stroke="#555" stroke-width="0.7"/>
<text x="219.8" y="383.6" font-size="6.5" fill="#222" text-anchor="end" dominant-baseline="central" font-family='"Liberation Sans", sans-serif' transform="rotate(-55 219.8 383.6)" font-style="italic">ARG_212</text>
<line x1="227.3" y1="378.6" x2="227.3" y2="380.6" stroke="#555" stroke-width="0.7"/>
<text x="229.7" y="383.6" font-size="6.5" fill="#222" text-anchor="end" dominant-baseline="central" font-family='"Liberation Sans", sans-serif' transform="rotate(-55 229.7 383.6)" font-style="italic">MET_251</text>
<rect x="233.2" y="378.1" width="7.9" height="0.5" fill="#386cb0" stroke="none" stroke-width="1"/>
<line x1="237.2" y1="378.6" x2="237.2" y2="380.6" stroke="#555" stroke-width="0.7"/>
<text x="239.6" y="383.6" font-size="6.5" fill="#222" text-anchor="end" dominant-baseline="central" font-family='"Liberation Sans", sans-serif' transform="rotate(-55 239.6 383.6)" font-style="italic">LYS_256</text>
<rect x="243.1" y="337.8" width="7.9" height="40.8" fill="#7fc97f" stroke="none" stroke-width="1"/>
<rect x="243.1" y="235.8" width="7.9" height="102" fill="#beaed4" stroke="none" stroke-width="1"/>
<rect x="243.1" y="227.9" width="7.9" height="7.9" fill="#386cb0" stroke="none" stroke-width="1"/>
<line x1="247.1" y1="378.6" x2="247.1" y2="380.6" stroke="#555" stroke-width="0.7"/>
<text x="249.5" y="383.6" font-size="6.5" fill="#222" text-anchor="end" dominant-baseline="central" font-family='"Liberation Sans", sans-serif' transform="rotate(-55 249.5 383.6)" font-style="italic">TRP_388</text>
<rect x="253.1" y="365.1" width="7.9" height="13.5" fill="#beaed4" stroke="none" stroke-width="1"/>
<line x1="257" y1="378.6" x2="257" y2="380.6" stroke="#555" stroke-width="0.7"/>
<text x="259.4" y="383.6" font-size="6.5" fill="#222" text-anchor="end" dominant-baseline="central" font-family='"Liberation Sans", sans-serif' transform="rotate(-55 259.4 383.6)" font-style="italic">PHE_389</text>
<rect x="263" y="376.4" width="7.9" height="2.2" fill="#beaed4" stroke="none" stroke-width="1"/>
<line x1="266.9" y1="378.6" x2="266.9" y2="380.6" stroke="#555" stroke-width="0.7"/>
<text x="269.3" y="383.6" font-size="6.5" fill="#222" text-anchor="end" dominant-baseline="central" font-family='"Liberation Sans", sans-serif' transform="rotate(-55 269.3 383.6)" font-style="italic">ALA_392</text>
<rect x="272.9" y="377.6" width="7.9" height="1" fill="#386cb0" stroke="none" stroke-width="1"/>
<line x1="276.8" y1="378.6" x2="276.8" y2="380.6" stroke="#555" stroke-width="0.7"/>
<text x="279.2" y="383.6" font-size="6.5" fill="#222" text-anchor="end" dominant-baseline="central" font-family='"Liberation Sans", sans-serif' transform="rotate(-55 279.2 383.6)" font-style="italic">GLU_393</text>
<rect x="282.8" y="377" width="7.9" height="1.6" fill="#386cb0" stroke="none" stroke-width="1"/>
<line x1="286.7" y1="378.6" x2="286.7" y2="380.6" stroke="#555" stroke-width="0.7"/>
<text x="289.1" y="383.6" font-size="6.5" fill="#222" text-anchor="end" dominant-baseline="central" font-family='"Liberation Sans", sans-serif' transform="rotate(-55 289.1 383.6)" font-style="italic">GLN_397</text>
<rect x="292.7" y="377.6" width="7.9" height="1" fill="#beaed4" stroke="none" stroke-width="1"/>
<rect x="292.7" y="368.9" width="7.9" height="8.7" fill="#386cb0" stroke="none" stroke-width="1"/>
<line x1="296.6" y1="378.6" x2="296.6" y2="380.6" stroke="#555" stroke-width="0.7"/>
<text x="299" y="383.6" font-size="6.5" fill="#222" text-anchor="end" dominant-baseline="central" font-family='"Liberation Sans", sans-serif' transform="rotate(-55 299 383.6)" font-style="italic">ARG_400</text>
<rect x="302.6" y="375.5" width="7.9" height="3.1" fill="#beaed4" stroke="none" stroke-width="1"/>
<rect x="302.6" y="342.4" width="7.9" height="33.1" fill="#386cb0" stroke="none" stroke-width="1"/>
<line x1="306.6" y1="378.6" x2="306.6" y2="380.6" stroke="#555" stroke-width="0.7"/>
<text x="308.9" y="383.6" font-size="6.5" fill="#222" text-anchor="end" dominant-baseline="central" font-family='"Liberation Sans", sans-serif' transform="rotate(-55 308.9 383.6)" font-style="italic">PRO_401</text>
<rect x="312.5" y="365.5" width="7.9" height="13.1" fill="#beaed4" stroke="none" stroke-width="1"/>
<rect x="312.5" y="365" width="7.9" height="0.5" fill="#386cb0" stroke="none" stroke-width="1"/>
<line x1="316.5" y1="378.6" x2="316.5" y2="380.6" stroke="#555" stroke-width="0.7"/>
<text x="318.9" y="383.6" font-size="6.5" fill="#222" text-anchor="end" dominant-baseline="central" font-family='"Liberation Sans", sans-serif' transform="rotate(-55 318.9 383.6)" font-style="italic">ILE_404</text>
<rect x="322.4" y="376.6" width="7.9" height="2" fill="#beaed4" stroke="none" stroke-width="1"/>
<line x1="326.4" y1="378.6" x2="326.4" y2="380.6" stroke="#555" stroke-width="0.7"/>
<text x="328.8" y="383.6" font-size="6.5" fill="#222" text-anchor="end" dominant-baseline="central" font-family='"Liberation Sans", sans-serif' transform="rotate(-55 328.8 383.6)" font-style="italic">ALA_405</text>
<rect x="332.3" y="376.1" width="7.9" height="2.6" fill="#beaed4" stroke="none" stroke-width="1"/>
<line x1="336.3" y1="378.6" x2="336.3" y2="380.6" stroke="#555" stroke-width="0.7"/>
<text x="338.7" y="383.6" font-size="6.5" fill="#222" text-anchor="end" dominant-baseline="central" font-family='"Liberation Sans", sans-serif' transform="rotate(-55 338.7 383.6)" font-style="italic">PHE_409</text>
<rect x="342.2" y="378.2" width="7.9" height="0.4" fill="#386cb0" stroke="none" stroke-width="1"/>
<line x1="346.2" y1="378.6" x2="346.2" y2="380.6" stroke="#555" stroke-width="0.7"/>
<text x="348.6" y="383.6" font-size="6.5" fill="#222" text-anchor="end" dominant-baseline="central" font-family='"Liberation Sans", sans-serif' transform="rotate(-55 348.6 383.6)" font-style="italic">TRP_412</text>
<polyline points="85.2,489.1 85.8,497.9 86.3,504.8 86.9,506.4 87.5,502.5 88.0,494.8 88.6,496.6 89.2,501.7 89.7,491.9 90.3,493.9 90.9,503.3 91.5,500.1 92.0,493.3 92.6,496.1 93.2,485.3 93.7,501.9 94.3,494.7 94.9,485.5 95.4,487.6 96.0,489.3 96.6,505.3 97.1,496.7 97.7,488.0 98.3,508.0 98.8,504.9 99.4,491.1 100.0,478.4 100.5,506.1 101.1,490.9 101.7,494.5 102.2,490.9 102.8,503.2 103.4,505.0 104.0,500.8 104.5,493.8 105.1,496.7 105.7,498.2 106.2,483.8 106.8,503.0 107.4,492.4 107.9,498.7 108.5,498.6 109.1,500.0 109.6,502.5 110.2,508.4 110.8,489.1 111.3,490.6 111.9,494.5 112.5,490.8 113.0,500.7 113.6,492.3 114.2,496.2 114.7,503.1 115.3,495.6 115.9,502.9 116.5,505.6 117.0,506.8 117.6,488.7 118.2,504.3 118.7,511.5 119.3,499.2 119.9,497.2 120.4,499.5 121.0,501.3 121.6,502.4 122.1,507.7 122.7,505.4 123.3,495.4 123.8,508.7 124.4,504.1 125.0,494.3 125.5,500.1 126.1,502.0 126.7,504.2 127.2,502.7 127.8,506.4 128.4,493.7 129.0,500.1 129.5,494.6 130.1,499.4 130.7,498.0 131.2,490.8 131.8,482.1 132.4,503.1 132.9,498.5 133.5,499.3 134.1,492.7 134.6,495.4 135.2,501.0 135.8,498.0 136.3,505.5 136.9,501.1 137.5,493.8 138.0,501.0 138.6,491.6 139.2,498.2 139.7,486.2 140.3,496.3 140.9,501.5 141.5,493.7 142.0,497.1 142.6,501.0 143.2,498.7 143.7,509.1 144.3,496.9 144.9,500.1 145.4,499.7 146.0,485.3 146.6,491.0 147.1,503.4 147.7,496.1 148.3,508.3 148.8,498.8 149.4,497.1 150.0,504.0 150.5,498.6 151.1,507.8 151.7,489.4 152.2,501.6 152.8,503.6 153.4,505.1 154.0,492.1 154.5,505.4 155.1,498.7 155.7,493.8 156.2,502.3 156.8,496.5 157.4,502.2 157.9,502.9 158.5,495.1 159.1,488.3 159.6,491.2 160.2,497.2 160.8,489.8 161.3,497.4 161.9,491.1 162.5,490.8 163.0,485.0 163.6,488.6 164.2,493.9 164.7,484.7 165.3,486.2 165.9,483.9 166.5,495.0 167.0,479.4 167.6,482.1 168.2,495.0 168.7,493.1 169.3,485.8 169.9,495.1 170.4,475.9 171.0,490.0 171.6,487.5 172.1,478.2 172.7,477.6 173.3,483.7 173.8,488.3 174.4,488.8 175.0,487.0 175.5,490.3 176.1,491.0 176.7,479.7 177.2,486.2 177.8,483.4 178.4,491.6 179.0,483.3 179.5,492.0 180.1,486.1 180.7,498.6 181.2,486.4 181.8,488.9 182.4,485.9 182.9,492.9 183.5,504.4 184.1,481.8 184.6,479.8 185.2,484.3 185.8,491.3 186.3,480.7 186.9,491.5 187.5,491.4 188.0,488.2 188.6,488.9 189.2,482.4 189.7,483.2 190.3,483.4 190.9,492.5 191.5,481.8 192.0,481.6 192.6,488.5 193.2,473.4 193.7,481.6 194.3,485.1 194.9,485.7 195.4,484.8 196.0,491.6 196.6,485.5 197.1,480.0 197.7,491.5 198.3,472.6 198.8,476.1 199.4,476.0 200.0,476.7 200.5,477.5 201.1,495.1 201.7,478.2 202.2,465.0 202.8,488.4 203.4,483.3 204.0,483.8 204.5,479.8 205.1,479.8 205.7,484.4 206.2,491.0 206.8,488.2 207.4,491.1 207.9,489.9 208.5,489.3 209.1,477.9 209.6,490.7 210.2,497.3 210.8,497.7 211.3,489.5 211.9,488.4 212.5,485.8 213.0,498.9 213.6,477.9 214.2,490.0 214.7,495.2 215.3,500.2 215.9,492.3 216.5,500.4 217.0,510.3 217.6,494.3 218.2,502.9 218.7,526.0 219.3,501.0 219.9,502.1 220.4,503.7 221.0,487.3 221.6,491.1 222.1,508.6 222.7,499.9 223.3,503.7 223.8,503.3 224.4,500.3 225.0,493.9 225.5,496.5 226.1,488.0 226.7,497.5 227.2,492.0 227.8,496.3 228.4,508.2 229.0,501.1 229.5,497.3 230.1,489.6 230.7,503.0 231.2,509.0 231.8,495.3 232.4,503.8 232.9,497.8 233.5,498.5 234.1,496.8 234.6,489.7 235.2,495.5 235.8,489.5 236.3,509.1 236.9,504.9 237.5,496.5 238.0,500.8 238.6,499.2 239.2,501.0 239.7,498.6 240.3,498.9 240.9,499.5 241.5,491.2 242.0,492.5 242.6,495.1 243.2,499.8 243.7,495.9 244.3,508.5 244.9,496.8 245.4,496.9 246.0,501.6 246.6,505.2 247.1,506.9 247.7,503.8 248.3,494.3 248.8,496.8 249.4,504.8 250.0,498.8 250.5,504.0 251.1,497.5 251.7,516.8 252.2,505.6 252.8,504.8 253.4,500.3 254.0,488.5 254.5,488.3 255.1,501.0 255.7,501.4 256.2,482.1 256.8,496.6 257.4,505.5 257.9,502.7 258.5,496.8 259.1,505.1 259.6,500.7 260.2,500.6 260.8,522.0 261.3,509.3 261.9,497.2 262.5,493.6 263.0,490.4 263.6,490.3 264.2,507.1 264.7,509.7 265.3,501.7 265.9,503.6 266.5,493.2 267.0,501.6 267.6,508.5 268.2,504.6 268.7,502.3 269.3,494.1 269.9,494.5 270.4,499.8 271.0,496.6 271.6,499.9 272.1,495.8 272.7,498.0 273.3,499.5 273.8,503.0 274.4,500.2 275.0,498.1 275.5,497.5 276.1,505.1 276.7,501.4 277.2,495.7 277.8,496.5 278.4,498.2 279.0,506.8 279.5,510.3 280.1,497.7 280.7,507.9 281.2,497.2 281.8,496.2 282.4,494.8 282.9,488.2 283.5,502.7 284.1,498.3 284.6,496.0 285.2,489.2 285.8,498.7 286.3,495.9 286.9,497.1 287.5,498.4 288.0,493.6 288.6,496.0 289.2,502.2 289.7,505.9 290.3,500.1 290.9,500.8 291.5,497.0 292.0,498.5 292.6,493.2 293.2,504.3 293.7,499.2 294.3,502.4 294.9,493.1 295.4,499.0 296.0,494.9 296.6,502.0 297.1,499.2 297.7,503.4 298.3,495.5 298.8,500.8 299.4,491.6 300.0,497.6 300.5,490.9 301.1,488.8 301.7,491.4 302.2,490.2 302.8,477.5 303.4,465.6 304.0,483.5 304.5,484.8 305.1,471.6 305.7,475.0 306.2,480.8 306.8,487.4 307.4,486.8 307.9,491.6 308.5,490.8 309.1,500.0 309.6,475.0 310.2,483.3 310.8,488.9 311.3,475.9 311.9,473.5 312.5,486.1 313.0,490.3 313.6,489.0 314.2,474.2 314.7,478.2 315.3,484.6 315.9,481.9 316.5,485.7 317.0,484.1 317.6,497.6 318.2,484.8 318.7,486.7 319.3,485.3 319.9,490.2 320.4,476.6 321.0,487.2 321.6,481.5 322.1,475.8 322.7,490.4 323.3,488.2 323.8,493.7 324.4,486.9 325.0,486.6 325.5,483.4 326.1,485.8 326.7,480.8 327.2,491.4 327.8,478.7 328.4,494.5 329.0,483.3 329.5,487.7 330.1,483.8 330.7,487.8 331.2,491.2 331.8,484.2 332.4,478.8 332.9,484.7 333.5,488.6 334.1,469.0 334.6,491.5 335.2,492.2 335.8,474.5 336.3,486.5 336.9,492.0 337.5,480.5 338.0,481.9 338.6,481.6 339.2,488.7 339.7,493.0 340.3,485.3 340.9,486.6 341.5,489.8 342.0,488.2 342.6,482.8 343.2,492.9 343.7,475.8 344.3,485.0 344.9,482.3 345.4,484.6 346.0,486.5 346.6,484.9 347.1,501.6 347.7,489.6 348.3,490.3 348.8,497.5 349.4,493.1 350.0,475.6 350.5,489.7 351.1,493.1 351.7,484.5 352.2,489.5 352.8,486.0 353.4,489.1 354.0,477.7 354.5,476.4 355.1,484.9 355.7,489.8 356.2,495.7 356.8,487.8 357.4,485.0 357.9,497.8 358.5,493.0 359.1,505.5 359.6,496.5 360.2,485.6 360.8,493.7 361.3,493.0 361.9,490.3 362.5,495.3 363.0,492.7 363.6,493.5 364.2,494.0 364.7,501.3 365.3,503.5 365.9,501.5 366.5,496.3 367.0,474.7 367.6,470.6 368.2,481.6 368.7,476.0 369.3,464.6 369.9,471.6 370.4,476.6 371.0,457.0 371.6,474.8 372.1,471.2 372.7,479.7 373.3,478.5 373.8,480.3 374.4,491.5 375.0,484.4 375.5,495.1 376.1,496.7 376.7,502.8 377.2,492.4 377.8,488.6 378.4,492.5 379.0,492.3 379.5,498.7 380.1,495.4 380.7,500.2 381.2,500.8 381.8,497.2 382.4,487.5 382.9,503.1 383.5,487.7 384.1,493.4 384.6,500.2 385.2,491.3 385.8,504.2 386.3,509.0 386.9,508.6 387.5,500.9 388.0,506.3 388.6,497.6 389.2,500.0 389.7,499.6 390.3,507.1 390.9,512.4 391.5,496.8 392.0,483.0 392.6,496.3 393.2,498.6 393.7,510.2 394.3,501.5 394.9,497.2 395.4,500.2 396.0,500.5 396.6,498.4 397.1,497.7 397.7,488.8 398.3,496.7 398.8,503.4 399.4,483.2 400.0,489.7 400.5,497.1 401.1,492.8 401.7,493.1 402.2,477.1 402.8,482.5 403.4,488.1 404.0,489.7 404.5,485.2 405.1,477.0 405.7,481.5 406.2,474.4 406.8,476.2 407.4,473.9 407.9,488.7 408.5,475.6 409.1,477.9 409.6,463.0 410.2,482.4 410.8,477.9 411.3,464.3 411.9,465.8 412.5,482.8 413.0,467.5 413.6,483.9 414.2,468.5 414.7,453.9 415.3,479.0 415.9,474.6 416.5,475.6 417.0,469.9 417.6,470.4 418.2,478.5 418.7,467.8 419.3,475.7 419.9,467.2 420.4,469.3 421.0,482.4 421.6,470.8 422.1,457.5 422.7,471.7 423.3,459.8 423.8,479.5 424.4,469.3 425.0,478.3 425.5,482.8 426.1,477.0 426.7,479.4 427.2,476.0 427.8,477.8 428.4,474.1 429.0,478.5 429.5,470.3 430.1,475.3 430.7,467.4 431.2,481.2 431.8,462.1 432.4,473.6 432.9,476.3 433.5,476.1 434.1,500.0 434.6,485.3 435.2,490.0 435.8,479.9 436.3,462.9 436.9,464.4 437.5,468.3 438.0,471.5 438.6,472.8 439.2,480.1 439.7,472.1 440.3,476.6 440.9,477.1 441.5,471.2 442.0,472.8 442.6,491.8 443.2,474.5 443.7,466.3 444.3,462.1 444.9,480.0 445.4,469.8 446.0,470.9 446.6,492.1 447.1,483.1 447.7,462.4 448.3,475.3 448.8,481.8 449.4,477.0 450.0,464.9 450.5,486.3 451.1,486.7 451.7,468.5 452.2,465.1 452.8,467.0 453.4,478.2 454.0,478.3 454.5,485.6 455.1,468.0 455.7,477.2 456.2,478.8 456.8,467.6 457.4,463.8 457.9,473.4 458.5,482.3 459.1,476.4 459.6,473.7 460.2,469.0 460.8,481.3 461.3,478.6 461.9,473.0 462.5,472.8 463.0,469.2 463.6,464.9 464.2,478.8 464.7,473.2 465.3,468.6 465.9,475.2 466.5,472.2 467.0,469.6 467.6,468.9 468.2,471.5 468.7,469.6 469.3,474.1 469.9,471.9 470.4,474.7 471.0,473.4 471.6,485.3 472.1,461.0 472.7,475.7 473.3,472.7 473.8,479.6 474.4,461.7 475.0,480.5 475.5,462.9 476.1,474.3 476.7,472.1 477.2,472.3 477.8,465.8 478.4,467.3 479.0,474.3 479.5,469.9 480.1,475.2 480.7,461.5 481.2,478.1 481.8,477.5 482.4,474.4 482.9,474.6 483.5,475.3 484.1,479.2 484.6,477.6 485.2,469.9 485.8,471.0 486.3,469.9 486.9,461.7 487.5,467.7 488.0,472.5 488.6,483.2 489.2,474.0 489.7,482.6 490.3,494.0 490.9,464.1 491.5,468.7 492.0,481.5 492.6,474.2 493.2,478.7 493.7,481.2 494.3,473.9 494.9,482.3 495.4,490.1 496.0,485.0 496.6,471.1 497.1,474.4 497.7,474.5 498.3,487.3 498.8,477.1 499.4,473.1 500.0,476.0 500.5,479.1 501.1,475.1 501.7,476.8 502.2,473.2 502.8,477.0 503.4,477.5 504.0,473.2 504.5,469.5 505.1,476.2 505.7,466.1 506.2,476.4 506.8,471.8 507.4,471.0 507.9,467.5 508.5,483.8 509.1,478.3 509.6,475.6 510.2,470.1 510.8,473.0 511.3,485.5 511.9,465.1 512.5,473.3 513.0,475.2 513.6,472.0 514.2,472.6 514.7,462.9 515.3,472.7 515.9,462.1 516.5,485.2 517.0,475.3 517.6,461.8 518.2,455.6 518.7,470.9 519.3,473.5 519.9,463.8 520.4,481.6 521.0,470.9 521.6,465.2 522.1,460.4 522.7,470.2 523.3,469.7 523.8,474.1 524.4,502.0 525.0,470.8 525.5,471.3 526.1,474.1 526.7,469.9 527.2,464.3 527.8,470.8 528.4,463.5 529.0,469.8 529.5,469.3 530.1,462.6 530.7,473.3 531.2,472.4 531.8,474.7 532.4,461.2 532.9,478.2 533.5,476.1 534.1,465.0 534.6,469.6 535.2,470.7 535.8,470.7 536.3,476.3 536.9,467.2 537.5,462.9 538.0,468.2 538.6,480.0 539.2,466.7 539.7,463.5 540.3,463.3 540.9,471.3 541.5,481.2 542.0,465.6 542.6,472.1 543.2,473.0 543.7,475.1 544.3,470.8 544.9,478.0 545.4,475.9 546.0,466.8 546.6,484.9 547.1,461.8 547.7,463.3 548.3,478.4 548.8,475.4 549.4,470.2 550.0,473.1 550.5,474.8 551.1,468.9 551.7,467.2 552.2,463.5 552.8,463.1 553.4,463.5 554.0,477.0 554.5,474.0 555.1,475.9 555.7,466.5 556.2,476.2 556.8,460.6 557.4,473.3 557.9,475.0 558.5,468.2 559.1,465.2 559.6,473.5 560.2,463.5 560.8,463.4 561.3,467.5 561.9,462.1 562.5,469.5 563.0,481.4 563.6,467.0 564.2,475.5 564.7,466.4 565.3,473.1 565.9,467.5 566.5,469.7 567.0,476.1 567.6,484.3 568.2,469.7 568.7,479.7 569.3,474.4 569.9,476.9 570.4,467.5 571.0,466.1 571.6,463.2 572.1,463.2 572.7,531.5 573.3,462.2 573.8,469.5 574.4,474.9 575.0,471.7 575.5,481.9 576.1,471.6 576.7,465.8 577.2,472.1 577.8,472.1 578.4,469.2 579.0,465.2 579.5,460.6 580.1,475.7 580.7,486.2 581.2,472.0 581.8,475.5 582.4,474.5 582.9,474.1 583.5,476.2 584.1,460.9 584.6,471.5 585.2,472.9 585.8,464.8 586.3,477.3 586.9,468.9 587.5,491.9 588.0,484.2 588.6,473.1 589.2,473.6 589.7,472.5 590.3,478.8 590.9,461.3 591.5,462.3 592.0,472.1 592.6,477.0 593.2,474.6 593.7,468.2 594.3,482.8 594.9,476.3 595.4,471.0 596.0,476.2" fill="none" stroke="#b2df8a" stroke-width="1.5" stroke-linejoin="round"/>
<rect x="85.4" y="446.3" width="510.4" height="89.09999999999997" fill="none" stroke="#333" stroke-width="1.2"/>
<line x1="82.4" y1="453.9" x2="85.4" y2="453.9" stroke="#333" stroke-width="1"/>
<text x="80.4" y="453.9" font-size="9" fill="#333" text-anchor="end" dominant-baseline="central" font-family='"Liberation Sans", sans-serif' textLength="12" lengthAdjust="spacingAndGlyphs">5.0</text>
<line x1="82.4" y1="477.6" x2="85.4" y2="477.6" stroke="#333" stroke-width="1"/>
<text x="80.4" y="477.6" font-size="9" fill="#333" text-anchor="end" dominant-baseline="central" font-family='"Liberation Sans", sans-serif' textLength="12" lengthAdjust="spacingAndGlyphs">4.8</text>
<line x1="82.4" y1="501.3" x2="85.4" y2="501.3" stroke="#333" stroke-width="1"/>
<text x="80.4" y="501.3" font-size="9" fill="#333" text-anchor="end" dominant-baseline="central" font-family='"Liberation Sans", sans-serif' textLength="12" lengthAdjust="spacingAndGlyphs">4.6</text>
<line x1="82.4" y1="525" x2="85.4" y2="525" stroke="#333" stroke-width="1"/>
<text x="80.4" y="525" font-size="9" fill="#333" text-anchor="end" dominant-baseline="central" font-family='"Liberation Sans", sans-serif' textLength="12" lengthAdjust="spacingAndGlyphs">4.4</text>
<line x1="85.4" y1="535.4" x2="85.4" y2="538.4" stroke="#333" stroke-width="1"/>
<line x1="187.5" y1="535.4" x2="187.5" y2="538.4" stroke="#333" stroke-width="1"/>
<line x1="289.6" y1="535.4" x2="289.6" y2="538.4" stroke="#333" stroke-width="1"/>
<line x1="391.7" y1="535.4" x2="391.7" y2="538.4" stroke="#333" stroke-width="1"/>
<line x1="493.8" y1="535.4" x2="493.8" y2="538.4" stroke="#333" stroke-width="1"/>
<line x1="595.8" y1="535.4" x2="595.8" y2="538.4" stroke="#333" stroke-width="1"/>
<text x="54" y="491.5" font-size="10.5" fill="#222" text-anchor="middle" dominant-baseline="central" font-family='"Liberation Sans", sans-serif' transform="rotate(-90 54 491.5)" letter-spacing="1.3">rGyr (&#197;)</text>
<rect x="602.2" y="446.2" width="71.5" height="89.1" fill="none" stroke="#333" stroke-width="1.2"/>
<rect x="602.8" y="451.4" width="2.4" height="4.9" fill="#b2df8a" stroke="none" stroke-width="1"/>
<rect x="602.8" y="459.3" width="19.4" height="5.3" fill="#b2df8a" stroke="none" stroke-width="1"/>
<rect x="602.8" y="467.6" width="47.6" height="5.3" fill="#b2df8a" stroke="none" stroke-width="1"/>
<rect x="602.8" y="475.9" width="52.1" height="5.2" fill="#b2df8a" stroke="none" stroke-width="1"/>
<rect x="602.8" y="484.2" width="67.1" height="5.2" fill="#b2df8a" stroke="none" stroke-width="1"/>
<rect x="602.8" y="492" width="62.6" height="5.3" fill="#b2df8a" stroke="none" stroke-width="1"/>
<rect x="602.8" y="500" width="39.7" height="5.2" fill="#b2df8a" stroke="none" stroke-width="1"/>
<rect x="602.8" y="508.2" width="12.6" height="5.3" fill="#b2df8a" stroke="none" stroke-width="1"/>
<rect x="602.8" y="516.5" width="0.4" height="5.3" fill="#b2df8a" stroke="none" stroke-width="1"/>
<line x1="599.7" y1="453.3" x2="602.2" y2="453.3" stroke="#333" stroke-width="1"/>
<line x1="599.7" y1="477.4" x2="602.2" y2="477.4" stroke="#333" stroke-width="1"/>
<line x1="599.7" y1="500.7" x2="602.2" y2="500.7" stroke="#333" stroke-width="1"/>
<line x1="599.7" y1="524.8" x2="602.2" y2="524.8" stroke="#333" stroke-width="1"/>
<polyline points="84.0,611.9 84.6,623.6 85.1,614.3 85.7,600.3 86.3,604.8 86.8,600.8 87.4,601.9 88.0,612.2 88.5,595.7 89.1,607.0 89.7,602.5 90.2,610.6 90.8,604.0 91.4,597.8 92.0,603.3 92.5,607.1 93.1,601.4 93.7,607.0 94.2,602.6 94.8,597.2 95.4,613.1 95.9,614.0 96.5,610.4 97.1,612.1 97.6,617.9 98.2,609.9 98.8,598.5 99.3,608.5 99.9,616.9 100.5,604.4 101.0,615.5 101.6,606.5 102.2,603.5 102.7,615.7 103.3,611.6 103.9,607.3 104.4,609.0 105.0,617.3 105.6,617.1 106.2,608.6 106.7,613.2 107.3,614.8 107.9,605.6 108.4,611.7 109.0,612.3 109.6,611.4 110.1,608.5 110.7,611.2 111.3,609.6 111.8,610.0 112.4,610.5 113.0,613.5 113.5,607.3 114.1,610.1 114.7,611.1 115.2,608.9 115.8,617.0 116.4,601.7 116.9,611.9 117.5,603.4 118.1,587.0 118.6,613.1 119.2,594.5 119.8,597.7 120.3,606.2 120.9,607.5 121.5,609.4 122.1,606.6 122.6,606.1 123.2,606.3 123.8,604.4 124.3,606.9 124.9,590.6 125.5,606.7 126.0,607.1 126.6,626.3 127.2,624.7 127.7,620.5 128.3,626.8 128.9,622.9 129.4,621.1 130.0,632.0 130.6,625.8 131.1,628.1 131.7,620.8 132.3,622.8 132.8,629.9 133.4,624.4 134.0,626.3 134.5,625.1 135.1,621.5 135.7,601.7 136.3,605.9 136.8,607.7 137.4,607.9 138.0,603.2 138.5,610.2 139.1,603.9 139.7,605.5 140.2,596.8 140.8,604.6 141.4,604.6 141.9,601.9 142.5,618.7 143.1,607.0 143.6,612.6 144.2,608.5 144.8,600.3 145.3,600.5 145.9,603.7 146.5,602.5 147.0,602.1 147.6,596.8 148.2,585.6 148.7,590.6 149.3,575.0 149.9,586.2 150.5,578.5 151.0,581.0 151.6,583.4 152.2,585.8 152.7,575.7 153.3,574.1 153.9,574.7 154.4,569.5 155.0,577.4 155.6,587.8 156.1,577.4 156.7,583.8 157.3,576.0 157.8,583.5 158.4,582.3 159.0,583.5 159.5,595.5 160.1,593.4 160.7,587.1 161.2,585.2 161.8,578.4 162.4,586.0 162.9,580.2 163.5,588.4 164.1,582.4 164.7,591.8 165.2,572.5 165.8,584.3 166.4,592.5 166.9,592.9 167.5,593.4 168.1,600.6 168.6,593.8 169.2,599.9 169.8,600.2 170.3,604.2 170.9,593.0 171.5,593.7 172.0,596.0 172.6,595.2 173.2,591.7 173.7,596.2 174.3,602.4 174.9,573.0 175.4,595.5 176.0,593.9 176.6,588.1 177.1,592.7 177.7,583.9 178.3,597.2 178.9,593.0 179.4,599.0 180.0,606.4 180.6,601.6 181.1,590.8 181.7,600.3 182.3,601.9 182.8,590.5 183.4,588.4 184.0,596.4 184.5,587.4 185.1,604.1 185.7,583.7 186.2,592.2 186.8,593.4 187.4,595.6 187.9,597.4 188.5,598.4 189.1,596.6 189.6,606.1 190.2,589.7 190.8,601.0 191.3,596.0 191.9,598.7 192.5,599.3 193.0,591.7 193.6,588.9 194.2,593.8 194.8,589.0 195.3,582.7 195.9,597.2 196.5,598.6 197.0,579.0 197.6,584.7 198.2,597.9 198.7,589.1 199.3,586.9 199.9,586.7 200.4,585.2 201.0,579.2 201.6,578.1 202.1,587.4 202.7,579.7 203.3,580.3 203.8,578.0 204.4,580.8 205.0,574.1 205.5,580.4 206.1,582.9 206.7,584.2 207.2,585.4 207.8,565.0 208.4,585.4 209.0,580.4 209.5,578.8 210.1,582.9 210.7,576.0 211.2,591.3 211.8,591.1 212.4,590.9 212.9,597.5 213.5,596.4 214.1,600.6 214.6,597.7 215.2,606.5 215.8,598.0 216.3,590.9 216.9,602.0 217.5,591.3 218.0,603.2 218.6,608.2 219.2,605.8 219.7,593.0 220.3,596.3 220.9,611.7 221.4,603.8 222.0,602.2 222.6,607.1 223.2,616.5 223.7,609.6 224.3,599.4 224.9,600.6 225.4,599.8 226.0,585.8 226.6,590.3 227.1,600.2 227.7,594.9 228.3,597.2 228.8,597.1 229.4,611.5 230.0,594.5 230.5,597.8 231.1,597.0 231.7,599.8 232.2,603.9 232.8,603.1 233.4,593.2 233.9,586.4 234.5,602.1 235.1,597.8 235.6,597.5 236.2,589.3 236.8,593.1 237.4,595.7 237.9,596.2 238.5,594.5 239.1,597.9 239.6,587.4 240.2,591.7 240.8,600.1 241.3,581.1 241.9,592.9 242.5,596.4 243.0,593.8 243.6,589.9 244.2,594.3 244.7,595.0 245.3,597.0 245.9,587.5 246.4,595.9 247.0,594.4 247.6,596.1 248.1,601.8 248.7,602.1 249.3,610.3 249.8,604.2 250.4,612.0 251.0,613.2 251.5,612.0 252.1,613.0 252.7,604.0 253.3,603.5 253.8,608.9 254.4,600.0 255.0,607.9 255.5,602.9 256.1,602.3 256.7,594.4 257.2,602.0 257.8,606.4 258.4,610.3 258.9,609.8 259.5,602.5 260.1,602.7 260.6,601.3 261.2,606.6 261.8,603.0 262.3,607.3 262.9,613.7 263.5,601.9 264.0,595.2 264.6,598.0 265.2,597.4 265.7,597.4 266.3,611.9 266.9,608.6 267.5,597.6 268.0,607.5 268.6,611.3 269.2,602.8 269.7,599.6 270.3,602.9 270.9,609.4 271.4,609.2 272.0,611.1 272.6,609.4 273.1,610.6 273.7,609.6 274.3,605.3 274.8,597.4 275.4,602.9 276.0,607.5 276.5,605.8 277.1,611.4 277.7,604.7 278.2,604.0 278.8,613.9 279.4,607.9 279.9,603.4 280.5,608.2 281.1,611.7 281.7,608.5 282.2,591.1 282.8,599.1 283.4,600.1 283.9,598.6 284.5,604.5 285.1,610.2 285.6,601.8 286.2,597.6 286.8,614.1 287.3,601.5 287.9,597.1 288.5,605.5 289.0,609.1 289.6,602.4 290.2,608.8 290.7,598.7 291.3,598.0 291.9,600.7 292.4,603.1 293.0,599.1 293.6,605.5 294.1,602.5 294.7,614.8 295.3,605.7 295.9,607.8 296.4,602.3 297.0,605.4 297.6,611.8 298.1,613.8 298.7,617.3 299.3,615.2 299.8,610.6 300.4,609.5 301.0,616.3 301.5,615.3 302.1,622.5 302.7,618.8 303.2,622.9 303.8,623.1 304.4,628.0 304.9,607.2 305.5,608.0 306.1,606.3 306.6,620.4 307.2,606.6 307.8,620.5 308.3,617.1 308.9,623.6 309.5,621.5 310.0,612.1 310.6,603.5 311.2,614.2 311.8,615.7 312.3,606.5 312.9,615.9 313.5,624.0 314.0,604.3 314.6,613.7 315.2,610.1 315.7,616.4 316.3,616.3 316.9,615.2 317.4,620.0 318.0,609.2 318.6,621.2 319.1,611.4 319.7,616.0 320.3,618.7 320.8,602.5 321.4,613.9 322.0,616.3 322.5,623.2 323.1,613.7 323.7,614.1 324.2,607.9 324.8,620.3 325.4,624.9 326.0,615.7 326.5,613.0 327.1,604.8 327.7,617.7 328.2,627.8 328.8,617.1 329.4,619.2 329.9,615.9 330.5,601.4 331.1,596.3 331.6,575.0 332.2,593.4 332.8,583.0 333.3,587.6 333.9,584.9 334.5,584.3 335.0,581.2 335.6,577.9 336.2,588.0 336.7,582.0 337.3,580.0 337.9,575.2 338.4,583.1 339.0,578.0 339.6,584.0 340.2,587.2 340.7,599.9 341.3,601.0 341.9,609.9 342.4,592.2 343.0,598.2 343.6,604.4 344.1,598.8 344.7,595.7 345.3,608.8 345.8,596.7 346.4,590.5 347.0,591.5 347.5,602.9 348.1,599.9 348.7,590.4 349.2,591.9 349.8,600.0 350.4,602.4 350.9,595.3 351.5,601.6 352.1,601.3 352.6,589.9 353.2,598.8 353.8,601.0 354.4,594.7 354.9,584.9 355.5,599.8 356.1,604.2 356.6,609.0 357.2,589.1 357.8,614.3 358.3,594.8 358.9,608.6 359.5,606.7 360.0,602.9 360.6,598.2 361.2,590.7 361.7,604.1 362.3,595.9 362.9,580.9 363.4,603.5 364.0,589.8 364.6,595.3 365.1,573.3 365.7,588.7 366.3,588.2 366.8,591.0 367.4,580.9 368.0,575.1 368.6,578.7 369.1,568.3 369.7,574.8 370.3,585.2 370.8,578.2 371.4,580.4 372.0,572.5 372.5,591.0 373.1,589.1 373.7,582.7 374.2,589.6 374.8,577.8 375.4,581.2 375.9,588.3 376.5,579.6 377.1,586.9 377.6,579.4 378.2,588.7 378.8,592.9 379.3,579.8 379.9,584.4 380.5,578.1 381.0,574.0 381.6,583.4 382.2,586.9 382.7,592.2 383.3,582.0 383.9,574.6 384.5,581.1 385.0,576.4 385.6,582.1 386.2,580.7 386.7,580.8 387.3,580.4 387.9,575.5 388.4,579.6 389.0,568.3 389.6,575.6 390.1,568.0 390.7,576.9 391.3,573.9 391.8,590.9 392.4,581.0 393.0,571.1 393.5,573.2 394.1,573.2 394.7,581.8 395.2,587.8 395.8,581.7 396.4,577.0 396.9,587.1 397.5,571.4 398.1,586.5 398.7,576.7 399.2,562.7 399.8,592.9 400.4,588.1 400.9,575.3 401.5,582.2 402.1,579.0 402.6,580.8 403.2,575.9 403.8,579.1 404.3,585.2 404.9,581.3 405.5,588.6 406.0,585.4 406.6,602.9 407.2,591.0 407.7,597.8 408.3,591.1 408.9,594.0 409.4,603.2 410.0,594.1 410.6,600.0 411.1,596.4 411.7,592.1 412.3,599.2 412.9,597.4 413.4,598.2 414.0,607.3 414.6,607.9 415.1,599.3 415.7,596.2 416.3,600.1 416.8,597.9 417.4,605.4 418.0,614.7 418.5,605.2 419.1,602.0 419.7,599.2 420.2,595.7 420.8,596.7 421.4,596.7 421.9,600.8 422.5,600.1 423.1,604.7 423.6,599.1 424.2,598.1 424.8,590.8 425.3,608.3 425.9,602.6 426.5,610.0 427.1,601.9 427.6,606.2 428.2,597.2 428.8,601.8 429.3,609.6 429.9,591.1 430.5,606.5 431.0,609.8 431.6,601.9 432.2,604.0 432.7,608.1 433.3,593.0 433.9,600.4 434.4,595.6 435.0,597.8 435.6,600.4 436.1,603.1 436.7,603.4 437.3,604.4 437.8,594.9 438.4,611.1 439.0,606.6 439.5,605.7 440.1,602.2 440.7,600.2 441.2,601.5 441.8,599.5 442.4,589.0 443.0,599.4 443.5,609.8 444.1,582.0 444.7,595.7 445.2,591.7 445.8,602.8 446.4,601.2 446.9,584.7 447.5,591.7 448.1,601.0 448.6,592.0 449.2,589.7 449.8,596.5 450.3,594.5 450.9,605.5 451.5,591.0 452.0,603.1 452.6,589.7 453.2,601.6 453.7,595.0 454.3,580.6 454.9,595.5 455.4,588.9 456.0,594.0 456.6,604.9 457.2,588.8 457.7,589.9 458.3,602.9 458.9,597.7 459.4,607.8 460.0,596.8 460.6,592.8 461.1,600.0 461.7,608.0 462.3,603.9 462.8,597.8 463.4,599.6 464.0,596.9 464.5,592.1 465.1,606.1 465.7,596.7 466.2,588.9 466.8,589.5 467.4,596.4 467.9,599.6 468.5,595.3 469.1,593.6 469.6,598.9 470.2,591.3 470.8,592.3 471.4,604.3 471.9,595.7 472.5,600.2 473.1,603.6 473.6,603.5 474.2,599.7 474.8,609.6 475.3,601.8 475.9,596.5 476.5,603.9 477.0,599.2 477.6,592.7 478.2,597.7 478.7,601.5 479.3,591.9 479.9,599.8 480.4,599.6 481.0,599.4 481.6,592.3 482.1,597.7 482.7,601.2 483.3,601.7 483.8,595.3 484.4,602.9 485.0,596.0 485.6,602.5 486.1,609.4 486.7,598.3 487.3,603.1 487.8,605.1 488.4,597.0 489.0,598.3 489.5,601.9 490.1,605.0 490.7,584.8 491.2,594.1 491.8,592.3 492.4,592.2 492.9,593.1 493.5,593.4 494.1,596.5 494.6,594.3 495.2,600.2 495.8,603.4 496.3,599.6 496.9,602.1 497.5,602.1 498.0,589.8 498.6,579.1 499.2,578.2 499.7,570.2 500.3,571.7 500.9,577.3 501.5,566.5 502.0,571.8 502.6,579.2 503.2,570.5 503.7,574.4 504.3,567.4 504.9,568.1 505.4,567.8 506.0,556.6 506.6,574.0 507.1,575.5 507.7,575.4 508.3,576.4 508.8,578.0 509.4,577.6 510.0,585.9 510.5,575.6 511.1,581.3 511.7,575.5 512.2,576.5 512.8,566.0 513.4,571.3 513.9,572.0 514.5,575.6 515.1,564.1 515.7,578.9 516.2,581.1 516.8,590.4 517.4,597.6 517.9,606.8 518.5,622.0 519.1,604.5 519.6,606.0 520.2,614.6 520.8,623.0 521.3,608.7 521.9,606.7 522.5,608.2 523.0,608.1 523.6,611.7 524.2,603.2 524.7,618.7 525.3,616.2 525.9,611.2 526.4,613.8 527.0,601.5 527.6,601.8 528.1,603.1 528.7,609.2 529.3,608.1 529.9,604.5 530.4,609.1 531.0,596.4 531.6,608.5 532.1,598.1 532.7,600.5 533.3,603.0 533.8,597.5 534.4,604.8 535.0,605.5 535.5,599.8 536.1,602.3 536.7,604.5 537.2,595.8 537.8,594.4 538.4,596.9 538.9,592.8 539.5,592.2 540.1,609.2 540.6,601.2 541.2,599.1 541.8,606.6 542.3,609.7 542.9,608.9 543.5,609.4 544.1,601.6 544.6,607.8 545.2,608.0 545.8,601.8 546.3,607.7 546.9,608.3 547.5,603.9 548.0,596.2 548.6,600.2 549.2,604.3 549.7,594.4 550.3,604.1 550.9,603.6 551.4,602.5 552.0,591.2 552.6,600.9 553.1,605.3 553.7,599.8 554.3,614.8 554.8,590.9 555.4,605.6 556.0,597.5 556.5,607.5 557.1,591.3 557.7,604.5 558.3,600.4 558.8,604.7 559.4,595.1 560.0,591.5 560.5,609.7 561.1,593.6 561.7,595.9 562.2,599.8 562.8,596.3 563.4,605.3 563.9,609.0 564.5,598.9 565.1,594.5 565.6,608.9 566.2,607.0 566.8,607.2 567.3,607.8 567.9,595.7 568.5,599.2 569.0,596.4 569.6,596.1 570.2,610.2 570.7,600.5 571.3,618.0 571.9,605.6 572.4,602.5 573.0,615.0 573.6,619.6 574.2,610.3 574.7,600.9 575.3,609.6 575.9,616.5 576.4,604.8 577.0,600.3 577.6,610.5 578.1,606.9 578.7,601.0 579.3,607.0 579.8,604.6 580.4,610.6 581.0,606.8 581.5,614.0 582.1,614.6 582.7,602.1 583.2,611.1 583.8,612.9 584.4,612.9 584.9,612.6 585.5,604.1 586.1,602.8 586.6,613.4 587.2,601.5 587.8,596.3 588.4,612.1 588.9,603.3 589.5,605.2 590.1,597.8 590.6,599.1 591.2,601.9 591.8,604.0 592.3,608.0 592.9,595.6 593.5,609.5 594.0,600.4 594.6,599.5" fill="none" stroke="#a6cee3" stroke-width="1.5" stroke-linejoin="round"/>
<rect x="84.1" y="552.6" width="510.6" height="82.2" fill="none" stroke="#333" stroke-width="1.2"/>
<line x1="81.1" y1="556.8" x2="84.1" y2="556.8" stroke="#333" stroke-width="1"/>
<text x="78.5" y="556.8" font-size="9" fill="#333" text-anchor="end" dominant-baseline="central" font-family='"Liberation Sans", sans-serif' textLength="12" lengthAdjust="spacingAndGlyphs">200</text>
<line x1="81.1" y1="578.6" x2="84.1" y2="578.6" stroke="#333" stroke-width="1"/>
<text x="78.5" y="578.6" font-size="9" fill="#333" text-anchor="end" dominant-baseline="central" font-family='"Liberation Sans", sans-serif' textLength="12" lengthAdjust="spacingAndGlyphs">150</text>
<line x1="81.1" y1="600.4" x2="84.1" y2="600.4" stroke="#333" stroke-width="1"/>
<text x="78.5" y="600.4" font-size="9" fill="#333" text-anchor="end" dominant-baseline="central" font-family='"Liberation Sans", sans-serif' textLength="12" lengthAdjust="spacingAndGlyphs">100</text>
<line x1="81.1" y1="622.3" x2="84.1" y2="622.3" stroke="#333" stroke-width="1"/>
<text x="78.5" y="622.3" font-size="9" fill="#333" text-anchor="end" dominant-baseline="central" font-family='"Liberation Sans", sans-serif' textLength="8" lengthAdjust="spacingAndGlyphs">50</text>
<line x1="84.1" y1="634.8" x2="84.1" y2="637.8" stroke="#333" stroke-width="1"/>
<line x1="186.2" y1="634.8" x2="186.2" y2="637.8" stroke="#333" stroke-width="1"/>
<line x1="288.3" y1="634.8" x2="288.3" y2="637.8" stroke="#333" stroke-width="1"/>
<line x1="390.4" y1="634.8" x2="390.4" y2="637.8" stroke="#333" stroke-width="1"/>
<line x1="492.5" y1="634.8" x2="492.5" y2="637.8" stroke="#333" stroke-width="1"/>
<line x1="594.7" y1="634.8" x2="594.7" y2="637.8" stroke="#333" stroke-width="1"/>
<text x="54" y="594" font-size="10.5" fill="#222" text-anchor="middle" dominant-baseline="central" font-family='"Liberation Sans", sans-serif' transform="rotate(-90 54 594)" letter-spacing="1.3">SASA (&#197; <tspan baseline-shift="super" font-size="7">2</tspan>)</text>
<rect x="600.3" y="552.2" width="71.5" height="82.8" fill="none" stroke="#333" stroke-width="1.2"/>
<rect x="600.9" y="565.4" width="5.1" height="4.5" fill="#a6cee3" stroke="none" stroke-width="1"/>
<rect x="600.9" y="572.9" width="15.2" height="4.5" fill="#a6cee3" stroke="none" stroke-width="1"/>
<rect x="600.9" y="580.4" width="21.3" height="4.5" fill="#a6cee3" stroke="none" stroke-width="1"/>
<rect x="600.9" y="588" width="31.4" height="4.5" fill="#a6cee3" stroke="none" stroke-width="1"/>
<rect x="600.9" y="595.5" width="64.5" height="4.5" fill="#a6cee3" stroke="none" stroke-width="1"/>
<rect x="600.9" y="603" width="67.1" height="4.5" fill="#a6cee3" stroke="none" stroke-width="1"/>
<rect x="600.9" y="610.5" width="52.1" height="4.5" fill="#a6cee3" stroke="none" stroke-width="1"/>
<rect x="600.9" y="618" width="13.7" height="4.6" fill="#a6cee3" stroke="none" stroke-width="1"/>
<rect x="600.9" y="625.6" width="2.5" height="4.5" fill="#a6cee3" stroke="none" stroke-width="1"/>
<line x1="597.8" y1="556.7" x2="600.3" y2="556.7" stroke="#333" stroke-width="1"/>
<line x1="597.8" y1="578.6" x2="600.3" y2="578.6" stroke="#333" stroke-width="1"/>
<line x1="597.8" y1="600.4" x2="600.3" y2="600.4" stroke="#333" stroke-width="1"/>
<line x1="597.8" y1="622.6" x2="600.3" y2="622.6" stroke="#333" stroke-width="1"/>
<text x="84.7" y="648.2" font-size="13" fill="#111" text-anchor="middle" dominant-baseline="central" font-family='"Liberation Sans", sans-serif'>0</text>
<text x="184.2" y="650.7" font-size="13" fill="#111" text-anchor="middle" dominant-baseline="central" font-family='"Liberation Sans", sans-serif'>100</text>
<text x="284.2" y="650.7" font-size="13" fill="#111" text-anchor="middle" dominant-baseline="central" font-family='"Liberation Sans", sans-serif'>200</text>
<text x="386.8" y="650.6" font-size="13" fill="#111" text-anchor="middle" dominant-baseline="central" font-family='"Liberation Sans", sans-serif'>300</text>
<text x="486.2" y="650.4" font-size="13" fill="#111" text-anchor="middle" dominant-baseline="central" font-family='"Liberation Sans", sans-serif'>400</text>
<text x="585" y="650.2" font-size="13" fill="#111" text-anchor="middle" dominant-baseline="central" font-family='"Liberation Sans", sans-serif'>500</text>
<text x="357" y="675" font-size="13" fill="#111" text-anchor="middle" dominant-baseline="central" font-family='"Liberation Sans", sans-serif'>Time (nsec)</text>
<g id="mol">
<defs><radialGradient id="halo"><stop offset="0" stop-color="#c8c8c8" stop-opacity="0.7"/><stop offset="0.6" stop-color="#d8d8d8" stop-opacity="0.4"/><stop offset="1" stop-color="#e8e8e8" stop-opacity="0"/></radialGradient><radialGradient id="gYG" cx="0.45" cy="0.4" r="0.6"><stop offset="0" stop-color="#e6f59a"/><stop offset="0.7" stop-color="#c6e05a"/><stop offset="1" stop-color="#b4d24a"/></radialGradient><radialGradient id="gBL" cx="0.45" cy="0.4" r="0.6"><stop offset="0" stop-color="#e0f4fc"/><stop offset="0.7" stop-color="#a6dcf2"/><stop offset="1" stop-color="#8ed0ee"/></radialGradient><linearGradient id="arcg" x1="0" x2="1" y1="0" y2="0"><stop offset="0" stop-color="#7fd0ef" stop-opacity="0.1"/><stop offset="0.5" stop-color="#6cc6ec" stop-opacity="1"/><stop offset="1" stop-color="#7fd0ef" stop-opacity="0.1"/></linearGradient><marker id="arP" markerWidth="6" markerHeight="6" refX="5" refY="3" orient="auto" markerUnits="userSpaceOnUse"><path d="M0,0.5 L5.5,3 L0,5.5 z" fill="#c040e8"/></marker><marker id="arP2" markerWidth="6" markerHeight="6" refX="5" refY="3" orient="auto" markerUnits="userSpaceOnUse"><path d="M0,0.5 L5.5,3 L0,5.5 z" fill="#d8a0f0"/></marker></defs>
<circle cx="550.1" cy="233.5" r="4.5" fill="url(#halo)"/>
<circle cx="571.8" cy="221.3" r="4.5" fill="url(#halo)"/>
<circle cx="594.3" cy="233.5" r="4.5" fill="url(#halo)"/>
<circle cx="594.3" cy="260.7" r="4.5" fill="url(#halo)"/>
<circle cx="571.8" cy="273.2" r="4.5" fill="url(#halo)"/>
<circle cx="443.8" cy="297.3" r="4.2" fill="url(#halo)"/>
<circle cx="466" cy="310.3" r="4.2" fill="url(#halo)"/>
<circle cx="466" cy="336.7" r="4.2" fill="url(#halo)"/>
<circle cx="443.8" cy="349.5" r="4.2" fill="url(#halo)"/>
<circle cx="421.5" cy="337" r="4.2" fill="url(#halo)"/>
<circle cx="421.5" cy="310.3" r="4.2" fill="url(#halo)"/>
<circle cx="613.8" cy="298.2" r="6.5" fill="url(#halo)"/>
<circle cx="677.3" cy="310.2" r="6.5" fill="url(#halo)"/>
<circle cx="592.6" cy="335.8" r="6.5" fill="url(#halo)"/>
<circle cx="613" cy="348.6" r="6.5" fill="url(#halo)"/>
<circle cx="635.2" cy="335" r="6.5" fill="url(#halo)"/>
<circle cx="657.4" cy="348.6" r="6.5" fill="url(#halo)"/>
<circle cx="657.4" cy="375.3" r="6.5" fill="url(#halo)"/>
<circle cx="635.2" cy="388" r="6.5" fill="url(#halo)"/>
<circle cx="613" cy="375.3" r="6.5" fill="url(#halo)"/>
<path d="M481.5,345.2 Q506.7,312.3 533.5,345.5" fill="none" stroke="url(#arcg)" stroke-width="4.4"/>
<line x1="443.8" y1="297.3" x2="466" y2="310.3" stroke="#262626" stroke-width="1.3" stroke-linecap="round"/>
<line x1="466" y1="310.3" x2="466" y2="336.7" stroke="#262626" stroke-width="1.3" stroke-linecap="round"/>
<line x1="466" y1="336.7" x2="443.8" y2="349.5" stroke="#262626" stroke-width="1.3" stroke-linecap="round"/>
<line x1="443.8" y1="349.5" x2="421.5" y2="337" stroke="#262626" stroke-width="1.3" stroke-linecap="round"/>
<line x1="421.5" y1="337" x2="421.5" y2="310.3" stroke="#262626" stroke-width="1.3" stroke-linecap="round"/>
<line x1="421.5" y1="310.3" x2="443.8" y2="297.3" stroke="#262626" stroke-width="1.3" stroke-linecap="round"/>
<line x1="425.4" y1="310.9" x2="442.4" y2="301" stroke="#262626" stroke-width="1.3" stroke-linecap="round"/>
<line x1="463.5" y1="313.5" x2="463.5" y2="333.5" stroke="#262626" stroke-width="1.3" stroke-linecap="round"/>
<line x1="442.4" y1="345.8" x2="425.4" y2="336.3" stroke="#262626" stroke-width="1.3" stroke-linecap="round"/>
<line x1="550.1" y1="260.7" x2="550.1" y2="233.5" stroke="#262626" stroke-width="1.3" stroke-linecap="round"/>
<line x1="550.1" y1="233.5" x2="571.8" y2="221.3" stroke="#262626" stroke-width="1.3" stroke-linecap="round"/>
<line x1="571.8" y1="221.3" x2="594.3" y2="233.5" stroke="#262626" stroke-width="1.3" stroke-linecap="round"/>
<line x1="594.3" y1="233.5" x2="594.3" y2="260.7" stroke="#262626" stroke-width="1.3" stroke-linecap="round"/>
<line x1="594.3" y1="260.7" x2="571.8" y2="273.2" stroke="#262626" stroke-width="1.3" stroke-linecap="round"/>
<line x1="571.8" y1="273.2" x2="550.1" y2="260.7" stroke="#262626" stroke-width="1.3" stroke-linecap="round"/>
<line x1="552.6" y1="257.4" x2="552.6" y2="236.8" stroke="#262626" stroke-width="1.3" stroke-linecap="round"/>
<line x1="573.3" y1="224.9" x2="590.4" y2="234.2" stroke="#262626" stroke-width="1.3" stroke-linecap="round"/>
<line x1="590.4" y1="260" x2="573.3" y2="269.5" stroke="#262626" stroke-width="1.3" stroke-linecap="round"/>
<line x1="613" y1="348.6" x2="635.2" y2="335" stroke="#262626" stroke-width="1.3" stroke-linecap="round"/>
<line x1="635.2" y1="335" x2="657.4" y2="348.6" stroke="#262626" stroke-width="1.3" stroke-linecap="round"/>
<line x1="657.4" y1="348.6" x2="657.4" y2="375.3" stroke="#262626" stroke-width="1.3" stroke-linecap="round"/>
<line x1="657.4" y1="375.3" x2="635.2" y2="388" stroke="#262626" stroke-width="1.3" stroke-linecap="round"/>
<line x1="635.2" y1="388" x2="613" y2="375.3" stroke="#262626" stroke-width="1.3" stroke-linecap="round"/>
<line x1="613" y1="375.3" x2="613" y2="348.6" stroke="#262626" stroke-width="1.3" stroke-linecap="round"/>
<line x1="616.9" y1="349.2" x2="633.7" y2="338.8" stroke="#262626" stroke-width="1.3" stroke-linecap="round"/>
<line x1="654.9" y1="351.8" x2="654.9" y2="372.1" stroke="#262626" stroke-width="1.3" stroke-linecap="round"/>
<line x1="633.8" y1="384.3" x2="616.9" y2="374.6" stroke="#262626" stroke-width="1.3" stroke-linecap="round"/>
<line x1="466" y1="310.3" x2="486.6" y2="298.2" stroke="#262626" stroke-width="1.3" stroke-linecap="round"/>
<line x1="488.1" y1="298.2" x2="488.1" y2="278" stroke="#262626" stroke-width="1.3" stroke-linecap="round"/>
<line x1="485.1" y1="298.2" x2="485.1" y2="278" stroke="#262626" stroke-width="1.3" stroke-linecap="round"/>
<line x1="486.6" y1="298.2" x2="503.8" y2="308.1" stroke="#262626" stroke-width="1.3" stroke-linecap="round"/>
<line x1="511.1" y1="308.2" x2="529.3" y2="298.2" stroke="#262626" stroke-width="1.3" stroke-linecap="round"/>
<path d="M529.3,298.2 L527.5,273 L531.1,273 z" fill="#262626"/>
<line x1="529.3" y1="273" x2="550.1" y2="260.7" stroke="#262626" stroke-width="1.3" stroke-linecap="round"/>
<line x1="529.3" y1="298.2" x2="550.1" y2="310.2" stroke="#262626" stroke-width="1.3" stroke-linecap="round"/>
<line x1="548.6" y1="310.2" x2="548.6" y2="332" stroke="#262626" stroke-width="1.3" stroke-linecap="round"/>
<line x1="551.6" y1="310.2" x2="551.6" y2="332" stroke="#262626" stroke-width="1.3" stroke-linecap="round"/>
<line x1="550.1" y1="310.2" x2="567.5" y2="300.3" stroke="#262626" stroke-width="1.3" stroke-linecap="round"/>
<line x1="574.8" y1="300.2" x2="592.6" y2="310" stroke="#262626" stroke-width="1.3" stroke-linecap="round"/>
<line x1="595.4" y1="309.1" x2="594.8" y2="308.1" stroke="#262626" stroke-width="0.8" stroke-linecap="round"/>
<line x1="598" y1="307.9" x2="597.2" y2="306.6" stroke="#262626" stroke-width="0.8" stroke-linecap="round"/>
<line x1="600.6" y1="306.7" x2="599.6" y2="305" stroke="#262626" stroke-width="0.8" stroke-linecap="round"/>
<line x1="603.2" y1="305.5" x2="602" y2="303.4" stroke="#262626" stroke-width="0.8" stroke-linecap="round"/>
<line x1="605.8" y1="304.3" x2="604.4" y2="301.8" stroke="#262626" stroke-width="0.8" stroke-linecap="round"/>
<line x1="608.4" y1="303.2" x2="606.7" y2="300.2" stroke="#262626" stroke-width="0.8" stroke-linecap="round"/>
<line x1="611" y1="302" x2="609.1" y2="298.6" stroke="#262626" stroke-width="0.8" stroke-linecap="round"/>
<line x1="613.6" y1="300.8" x2="611.5" y2="297" stroke="#262626" stroke-width="0.8" stroke-linecap="round"/>
<line x1="613.8" y1="298.2" x2="631" y2="308.4" stroke="#262626" stroke-width="1.3" stroke-linecap="round"/>
<line x1="638.2" y1="308.4" x2="655.4" y2="298.2" stroke="#262626" stroke-width="1.3" stroke-linecap="round"/>
<line x1="656.9" y1="298.2" x2="656.9" y2="277.7" stroke="#262626" stroke-width="1.3" stroke-linecap="round"/>
<line x1="653.9" y1="298.2" x2="653.9" y2="277.7" stroke="#262626" stroke-width="1.3" stroke-linecap="round"/>
<line x1="655.4" y1="298.2" x2="677.3" y2="310.2" stroke="#262626" stroke-width="1.3" stroke-linecap="round"/>
<line x1="592.6" y1="310" x2="592.6" y2="335.8" stroke="#262626" stroke-width="1.3" stroke-linecap="round"/>
<line x1="592.6" y1="335.8" x2="613" y2="348.6" stroke="#262626" stroke-width="1.3" stroke-linecap="round"/>
<text x="486.6" y="273.5" font-size="9" fill="#e0201c" text-anchor="middle" dominant-baseline="central" font-family='"Liberation Sans", sans-serif'>O</text>
<text x="507.4" y="310.2" font-size="9" fill="#2a2ae0" text-anchor="middle" dominant-baseline="central" font-family='"Liberation Sans", sans-serif'>N</text>
<text x="507.4" y="318.8" font-size="9" fill="#2a2ae0" text-anchor="middle" dominant-baseline="central" font-family='"Liberation Sans", sans-serif'>H</text>
<text x="550.1" y="336.5" font-size="9" fill="#e0201c" text-anchor="middle" dominant-baseline="central" font-family='"Liberation Sans", sans-serif'>O</text>
<text x="571.1" y="298.2" font-size="9" fill="#2a2ae0" text-anchor="middle" dominant-baseline="central" font-family='"Liberation Sans", sans-serif'>N</text>
<text x="571.1" y="290" font-size="9" fill="#2a2ae0" text-anchor="middle" dominant-baseline="central" font-family='"Liberation Sans", sans-serif'>H</text>
<text x="634.6" y="310.5" font-size="9" fill="#e0201c" text-anchor="middle" dominant-baseline="central" font-family='"Liberation Sans", sans-serif'>O</text>
<text x="655.4" y="273.2" font-size="9" fill="#e0201c" text-anchor="middle" dominant-baseline="central" font-family='"Liberation Sans", sans-serif'>O</text>
<line x1="456.3" y1="248.5" x2="446.8" y2="322.3" stroke="#3aaa3a" stroke-width="0.8"/>
<circle cx="456.3" cy="248.5" r="1.3" fill="#2a9a2a"/><circle cx="446.8" cy="322.3" r="1.3" fill="#2a9a2a"/>
<text x="451.4" y="275.3" font-size="6.6" fill="#3a9a4a" text-anchor="middle" dominant-baseline="central" font-family='"Liberation Sans", sans-serif'>83%</text>
<line x1="467.4" y1="255.5" x2="481.5" y2="266" stroke="#d8a0f0" stroke-width="0.8" stroke-dasharray="1.6,1" marker-end="url(#arP2)"/>
<text x="472.6" y="251.2" font-size="6.6" fill="#d6a6ee" text-anchor="middle" dominant-baseline="central" font-family='"Liberation Sans", sans-serif'>39%</text>
<line x1="505.3" y1="325.5" x2="490.9" y2="366.5" stroke="#c854ec" stroke-width="0.75" marker-end="url(#arP)"/>
<text x="497.2" y="346.4" font-size="6.6" fill="#d084f0" text-anchor="middle" dominant-baseline="central" font-family='"Liberation Sans", sans-serif'>78%</text>
<circle cx="457.7" cy="235.1" r="11.2" fill="url(#gYG)"/>
<text x="457.7" y="228.1" font-size="6.7" fill="#222" text-anchor="middle" dominant-baseline="central" font-family='"Liberation Sans", sans-serif'>A:</text>
<text x="457.7" y="235.1" font-size="6.7" fill="#222" text-anchor="middle" dominant-baseline="central" font-family='"Liberation Sans", sans-serif'>TRP</text>
<text x="457.7" y="242.1" font-size="6.7" fill="#222" text-anchor="middle" dominant-baseline="central" font-family='"Liberation Sans", sans-serif'>388</text>
<circle cx="486" cy="379.1" r="11.2" fill="url(#gBL)"/>
<text x="486" y="372.1" font-size="6.7" fill="#222" text-anchor="middle" dominant-baseline="central" font-family='"Liberation Sans", sans-serif'>A:</text>
<text x="486" y="379.1" font-size="6.7" fill="#222" text-anchor="middle" dominant-baseline="central" font-family='"Liberation Sans", sans-serif'>THR</text>
<text x="486" y="386.1" font-size="6.7" fill="#222" text-anchor="middle" dominant-baseline="central" font-family='"Liberation Sans", sans-serif'>137</text>
<circle cx="517.7" cy="398.1" r="11.2" fill="url(#gYG)"/>
<text x="517.7" y="391.1" font-size="6.7" fill="#222" text-anchor="middle" dominant-baseline="central" font-family='"Liberation Sans", sans-serif'>A:</text>
<text x="517.7" y="398.1" font-size="6.7" fill="#222" text-anchor="middle" dominant-baseline="central" font-family='"Liberation Sans", sans-serif'>PRO</text>
<text x="517.7" y="405.1" font-size="6.7" fill="#222" text-anchor="middle" dominant-baseline="central" font-family='"Liberation Sans", sans-serif'>141</text>
</g>
</svg></body></html>
